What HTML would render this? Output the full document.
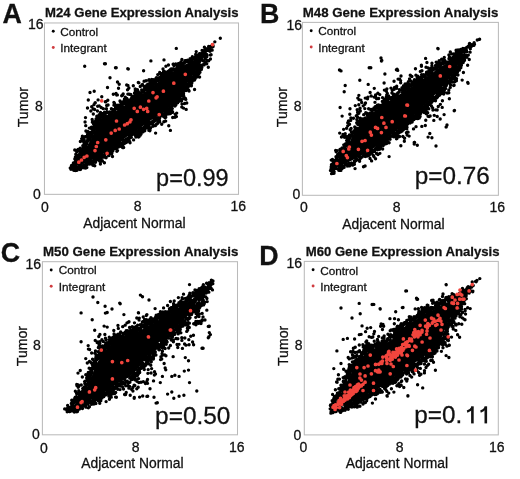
<!DOCTYPE html><html><head><meta charset="utf-8"><style>html,body{margin:0;padding:0;background:#fff;width:520px;height:479px;overflow:hidden}svg{display:block;filter:blur(0.4px)}text{font-family:"Liberation Sans",sans-serif;fill:#111;stroke:#111;stroke-width:0.28px}</style></head><body>
<svg width="520" height="479" viewBox="0 0 520 479">
<rect x="44.46" y="22.96" width="194.04" height="171.39" fill="none" stroke="#bababa" stroke-width="1.05"/>
<text x="2.56" y="22.96" font-size="26.8" font-weight="bold">A</text>
<text x="45" y="17.1" font-size="13.13" font-weight="bold">M24 Gene Expression Analysis</text>
<text x="43.5" y="28.8" font-size="14" text-anchor="end">16</text>
<text x="42.8" y="111.15" font-size="14" text-anchor="end">8</text>
<text x="40.8" y="198.6" font-size="14" text-anchor="end">0</text>
<text x="45.02" y="211.5" font-size="14" text-anchor="middle">0</text>
<text x="137.7" y="211.1" font-size="14" text-anchor="middle">8</text>
<text x="238.22" y="211.1" font-size="14" text-anchor="middle">16</text>
<text x="83.3" y="227.8" font-size="13.85">Adjacent Normal</text>
<text transform="translate(28.2,107.15) rotate(-90)" font-size="14.1" text-anchor="middle">Tumor</text>
<text x="60.3" y="35.9" font-size="11.75">Control</text>
<text x="60.3" y="52.1" font-size="11.75">Integrant</text>
<text x="156.1" y="185.5" font-size="23.5">p=0.99</text>
<circle cx="53.26" cy="31.26" r="1.45" fill="#000"/>
<circle cx="53.26" cy="47.56" r="1.45" fill="#d03c40"/>
<polygon points="75.34,166.37 76.85,166.12 84.12,163.85 91.67,160.08 100.52,155.16 108.84,150.26 117.52,144.48 125.73,137.74 126.23,137.37 133.75,132.62 140.5,128 145.83,123.63 146.3,123.29 153.3,118.79 153.55,118.64 161.24,114.32 167.11,109.8 172.17,104.28 176.98,98.02 186.91,84.12 191.34,77.72 200.18,63.97 204.06,56.71 205.45,53.91 199.23,57.37 198.97,57.5 190.77,61.46 182.49,65.89 174.61,70.27 167.39,75.08 151.53,86.98 143.16,93.45 142.96,93.6 134.36,99.6 134.13,99.75 126.03,104.75 125.98,104.78 117.88,109.66 111.97,114.02 111.53,114.31 111.06,114.56 110.56,114.75 110.05,114.89 109.53,114.97 109,115 106.18,115 103.1,116.54 100.18,119.83 97.04,126.1 94.1,132.97 93.97,133.24 90.47,140.24 90.21,140.7 81.29,154.58 77.02,162.16" fill="#000"/>
<path d="M150.67 87.01h0M159.65 116.02h0M194.63 76.03h0M90.83 111.05h0M191.13 60.84h0M197.41 56.07h0M84.64 148.38h0M126.96 101.77h0M99.19 105.84h0M91.27 135.55h0M172.92 103.75h0M127.1 102.36h0M116.88 151.27h0M75.83 162.99h0M183.52 93.39h0M148.86 88.53h0M200.92 66.74h0M123.92 143.42h0M177.39 98.02h0M168.46 65.05h0M152.86 124.05h0M93.46 131.66h0M136.97 96.85h0M211.33 46.37h0M146.07 80.7h0M123.67 141.03h0M102.77 116.52h0M165.37 76.41h0M117.35 94.88h0M175.81 104.97h0M118.49 108.2h0M83.95 167.81h0M183.44 94.52h0M128.63 140.77h0M113.54 111.74h0M187.62 84.41h0M181.05 62.88h0M160.69 79.28h0M178.54 63.92h0M77.04 158.69h0M101.85 114.86h0M177.68 64.13h0M126.92 139.23h0M71.48 168.49h0M175.73 63.91h0M160.43 115.56h0M162.05 114.7h0M104.96 112.87h0M135.91 137.07h0M172.27 108.62h0M137.44 89.72h0M163.62 71.26h0M92.26 133.07h0M109.75 150.56h0M192.02 59.06h0M202.39 54.13h0M200.68 55.4h0M85.39 144.66h0M166.29 111.15h0M97.47 111.03h0M168.61 71.54h0M169.99 107.18h0M161.93 77.72h0M96.04 158.01h0M103.12 115.04h0M127.92 85.39h0M146.52 123.51h0M123.17 142.36h0M107.8 100.24h0M84.87 136.8h0M194.77 75.76h0M93.14 129.95h0M91.48 137.16h0M94.24 129.95h0M203.34 53.81h0M91.04 137.45h0M168.68 111.15h0M90.14 163.06h0M99.17 114.75h0M80.16 148.19h0M177.59 102.87h0M107.5 153.79h0M199.97 72.31h0M155.13 81.31h0M75.83 154.3h0M157.76 80.66h0M91.97 160.97h0M180.23 95.7h0M163.48 77.05h0M93.23 108.88h0M113.05 111.2h0M190.29 84.52h0M162.42 74.75h0M79.39 151.05h0M101.2 116.76h0M84.42 149.26h0M186.56 61.59h0M136.69 136.11h0M196.86 69.29h0M138.99 133.84h0M85.21 165.28h0M201.2 66.26h0M139.15 136.52h0M86.83 167.52h0M76.23 161.36h0M130.72 94.47h0M95.26 102.72h0M179.63 67.42h0M170.13 72.81h0M127.79 102.97h0M166.18 75.22h0M161.14 76.59h0M182.21 64.37h0M116.84 105.82h0M98.73 117.65h0M194.56 59.19h0M149.79 129.67h0M136.2 135.85h0M179.24 66.54h0M92.97 130.1h0M141.68 89.97h0M92.37 122.15h0M209.7 51.02h0M146.81 88.3h0M180.67 66.33h0M135.81 94.53h0M187.07 88.23h0M128.25 88.85h0M125.44 140.57h0M162.21 77.28h0M156.62 81.1h0M105.25 153.48h0M100.5 156.33h0M172.15 104.8h0M99.51 159.17h0M91.98 161.87h0M122.6 147.51h0M101.77 96.72h0M102.3 154.83h0M79.47 165.85h0M180.24 65.2h0M86.06 136.5h0M128.73 139.77h0M104.89 113.44h0M158.32 77.99h0M92.09 134.59h0M135.24 88.94h0M205.49 54.78h0M143.84 90.99h0M143.92 92.25h0M147.61 89.72h0M210.93 46.2h0M115.59 107.23h0M140.3 93.16h0M164.44 75.3h0M150.14 123.98h0M180.31 64.27h0M97.86 122.33h0M193.16 78.28h0M80.47 153.84h0M175.18 104.25h0M187.5 60.21h0M156.36 81.47h0M130.36 101.83h0M175.68 99.88h0M152.84 81.75h0M75.37 170.45h0M74.75 150h0M183.18 91.39h0M155.9 81.08h0M154.53 118.38h0M178.08 101.29h0M72.23 165.61h0M203.8 61.13h0M118.1 145.33h0M153.88 81.99h0M149.14 123.15h0M200.02 53.8h0M114.76 110.63h0M171.79 69.14h0M83.7 145.36h0M155.29 118.9h0M121.81 105.21h0M108.91 154.85h0M154.72 119.89h0M141.05 134.04h0M165.09 76.59h0M177.4 99.8h0M132.91 134.27h0M170.47 108.15h0M109.4 150.46h0M185.49 86.76h0M98.28 123.5h0M80.17 166.13h0M150.21 122.86h0M110.85 149.98h0M167.85 112.63h0M115.25 146.16h0M93.31 114h0M169.76 108.2h0M148.22 125.22h0M74.05 166.84h0M130.71 135.19h0M109.63 112.51h0M79.11 150.81h0M84.55 149.06h0M117.18 108.85h0M105.3 101.82h0M106.67 105.53h0M75.46 166.76h0M178.87 65.82h0M122.73 104h0M168.71 111.75h0M191.02 83.07h0M92.1 135.75h0M173.4 64.21h0M157.56 118.39h0M170.76 71.99h0M177.62 98.22h0M89.75 138.66h0M191.73 83.25h0M182.51 98.62h0M135.42 98.6h0M103.28 108.66h0M184.39 90.42h0M197.19 74.05h0M144.79 87.92h0M204.41 47.17h0M204.33 56.47h0M78.16 158.18h0M179.16 66.96h0M147.38 86.79h0M122.83 144.41h0M97.12 125.03h0M114.63 103.49h0M144.15 86.43h0M93.47 123.64h0M181.12 95.49h0M94.19 124.34h0M98.87 122.42h0M207.59 50.36h0M99.02 156.43h0M184.2 90.23h0M94.62 127.84h0M80.71 169.25h0M155.4 83.69h0M122.38 104.64h0M204.7 57.13h0M111.93 149.85h0M131.18 101.09h0M210.45 59.04h0M128.83 139.22h0M87.61 134.59h0M150.89 85.09h0M152.92 126.26h0M155.95 78.37h0M101.42 156.25h0M189.19 60.26h0M155.13 83.32h0M147.05 85.04h0M205.74 50.95h0M143.96 127.35h0M158.81 119.42h0M128.98 102.66h0M169.62 70.21h0M149.4 84.32h0M183.21 89.46h0M97.3 157.22h0M179.13 99.62h0M111.2 113.94h0M85.07 122h0M152.76 85.08h0M207.82 48.65h0M91.15 135.24h0M192.35 56.7h0M94.63 126.55h0M165.68 121.1h0M105.57 152.24h0M111.4 108.63h0M96.59 158.07h0M195.59 56.47h0M187.05 84.77h0M76.79 152.06h0M79.95 150.02h0M126.8 98.52h0M176.97 67.83h0M196.48 58.36h0M82.03 151.09h0M75.8 160.43h0M93.99 104.66h0M73.87 166.95h0M87.54 164.01h0M163.3 73.16h0M182.84 65.54h0M142.48 84.38h0M147.92 84.09h0M118.42 147.11h0M138.06 133.2h0M158.24 119.13h0M136.84 97.2h0M135.99 96.47h0M92.62 131.39h0M128.82 139.45h0M177.68 100.02h0M146.95 125.06h0M152.85 81.03h0M75.49 169.09h0M139.28 94.78h0M87.16 132.41h0M92.44 161.86h0M179.04 101.31h0M157.47 80.15h0M74.72 165.08h0M96.83 120.05h0M100.63 116.7h0M199.06 68.12h0M192.29 58.8h0M158.26 121.03h0M200.44 55.73h0M165.91 66.26h0M156.61 79.19h0M85.93 131.07h0M142.01 128.71h0M103.39 155.6h0M112.17 113.04h0M105.15 152.69h0M191.59 78.3h0M81.45 153.63h0M120.49 101.86h0M134.29 133.76h0M135.24 97.19h0M99.29 120.16h0M189.48 61.5h0M112.95 110.54h0M130.33 137.81h0M99.12 156.37h0M151.71 122.07h0M117.3 108.38h0M142.32 128.33h0M131.68 134.21h0M130.71 101.38h0M159.64 121.68h0M201.51 67.46h0M162.55 78.56h0M204.94 49.38h0M102.61 114.57h0M181.83 91.44h0M129.69 141.51h0M173.95 65.49h0M140.26 86.5h0M134.41 134.31h0M91.71 131.93h0M85.73 146.22h0M99.2 158.4h0M195.91 71.64h0M98.95 115.14h0M125.26 97.1h0M160.97 73.53h0M183.8 96.25h0M154.77 82.22h0M121.28 146.46h0M142.04 85h0M185.06 60.64h0M138.09 92.19h0M186.69 84.59h0M163.02 68.9h0M73.87 164.33h0M190.56 81.56h0M131.84 99.99h0M119.37 106.37h0M200.49 68.98h0M168.75 125.72h0M109.26 112.31h0M119.9 142.61h0M83.53 149.08h0M87.81 137.98h0M94.58 109.43h0M150.86 123.87h0M170.3 69.6h0M148.87 80.22h0M118.89 107.06h0M155.28 120.78h0M125.62 103.22h0M179.55 95.46h0M91.6 133.09h0M85.74 125.66h0M117 105.57h0M199.52 56.36h0M120.1 107.64h0M106.42 108.8h0M111 153.05h0M158.82 80.14h0M125.83 103.5h0M99.59 161.05h0M152.24 83.32h0M134.41 97.7h0M198.45 54.64h0M141.72 128.82h0M105.44 153.21h0M166.54 113.18h0M204.3 51.84h0M99.09 158.11h0M205.77 62.18h0M171.06 68.83h0M148.57 85.34h0M75.78 165.11h0M91.58 128.72h0M151.57 86.23h0M187.69 86.31h0M156.42 79.05h0M124.41 99.23h0M74.34 168.53h0M175.09 69.26h0M80.01 169.57h0M130.51 137.57h0M145.12 89.82h0M73.79 167.68h0M118.37 143.93h0M186.13 86.85h0M172.77 104.95h0M83.64 164.85h0M139.14 93.12h0M170.46 113.46h0M125.97 104.71h0M88.36 163.77h0M80.01 149.46h0M111.68 112.35h0M145.22 90.08h0M165.54 112h0M114.11 109.53h0M160.8 78.81h0M116.06 93.53h0M153.58 121.77h0M209.79 48.52h0M144.08 81.31h0M82.12 140.49h0M162.52 76.73h0M70.96 169.36h0M124.07 102.26h0M138.53 137.09h0M163.55 113.7h0M155.37 125.67h0M79.67 168.6h0M128.94 137.59h0M159.26 118.49h0M95.02 159.63h0M118.51 88.25h0M166.94 72.17h0M201.17 56.07h0M182.26 93.99h0M89.37 128.09h0M204.09 64.92h0M125.56 102.85h0M75.15 164.95h0M119.92 144.94h0M171.9 105.18h0M124.39 143.49h0M154.87 120.14h0M89.72 163.24h0M213.1 46.46h0M202.6 51.68h0M155.72 82.13h0M183.48 91.14h0M107.54 152.39h0M200.13 56.42h0M181.78 107.08h0M181.02 93.99h0M173.34 68.72h0M168.34 112.05h0M123.85 140.4h0M112.86 147.87h0M159.9 77.49h0M184.18 89.04h0M185.44 98.54h0M106.26 152.82h0M154 83.07h0M146.87 128.04h0M176.41 116.61h0M119.15 143.2h0M191.39 85.75h0M152.01 123.58h0M209.97 51.26h0M119.77 107.29h0M97.39 158.85h0M139.62 93.73h0M159.61 79.49h0M153.34 79.71h0M77.22 150.12h0M187.83 85.78h0M122.58 94.98h0M159.48 120.82h0M163.5 115.79h0M179.42 99.41h0M77.76 156.85h0M168.09 109.78h0M120 101.06h0M178.41 100.03h0M206.8 56.85h0M204.03 53.9h0M179.76 98.13h0M179.76 65.94h0M110.73 149.39h0M176.31 64.94h0M181.86 93.13h0M149.85 130.82h0M175.29 104.53h0M101.21 117.15h0M166.41 75.16h0M111.49 148.68h0M135.29 90.92h0M140.99 92.73h0M151.78 79.57h0M118.36 105.69h0M95.81 127.64h0M176.7 113.1h0M93.8 127.02h0M159.81 80.06h0M93.05 122.57h0M135.6 98.62h0M168.29 109.01h0M91.82 134.59h0M182.68 92.93h0M75.32 161.89h0M118.51 108.09h0M206.39 54.09h0M151.67 85.9h0M169.53 113.63h0M148.9 127.75h0M173.35 69.41h0M96.96 123.12h0M127.49 138.52h0M71.5 165.54h0M189.31 81.25h0M168.22 110.43h0M197.95 71.6h0M102.61 157.05h0M190.86 83.04h0M170.78 69.28h0M115.6 145.91h0M81.38 166.16h0M96.35 125.94h0M197.47 57.35h0M156.45 77.82h0M149.1 84.68h0M104.54 112.17h0M123.65 147.55h0M131.65 101.22h0M100.03 158.1h0M150.03 130.21h0M134.47 93.32h0M102.3 160.77h0M136.09 96.88h0M123.12 101.73h0M109.76 111.92h0M87.75 139.4h0M86.16 141.58h0M179.84 64.05h0M109.01 155.58h0M107.24 111.89h0M178.36 100.3h0M133.75 97.35h0M185.73 88.26h0M166.28 113.94h0M151.18 83.01h0M183.75 91.52h0M88.76 135.62h0M75.96 164.54h0M168.44 71.16h0M118.82 145.87h0M142.86 131.92h0M75.08 167.14h0M181.51 100.95h0M168.85 109.65h0M157.75 123.18h0M175.26 101.59h0M189.06 91h0M194.44 75.32h0M79.61 167.8h0M130.04 142.84h0M181.88 59.45h0M207.09 55.2h0M163.64 116.5h0M83.25 146.95h0M100.53 112.38h0M86.79 143.82h0M101.63 117.16h0M77.08 160.27h0M113.92 102.56h0M138.84 82.75h0M126.26 142.55h0M93 165.21h0M101.47 157.2h0M188.93 85.11h0M102.7 114.08h0M105.08 156.96h0M159.36 120.8h0M156.69 118.77h0M206.73 63.7h0M126.92 103.09h0M185.46 61.49h0M93.35 161.88h0M128.51 100.15h0M136.47 94.18h0M149.07 79.61h0M143.84 129.31h0M125.54 101.65h0M199.57 67.9h0M188.09 84.01h0M186.05 90.6h0M174.94 117.19h0M112.48 156.44h0M80.36 141.45h0M84.94 141.45h0M196.88 75.17h0M196 54.62h0M160.28 78.15h0M173.96 104.9h0M106.78 112.64h0M87.12 164.45h0M167.43 110.48h0M92.17 119.44h0M192.72 77.12h0M210.74 46.41h0M117.95 108.35h0M133.6 139.9h0M72.93 166.75h0M104.24 156.53h0M89.48 161.42h0M90.78 137.82h0M189.22 84.84h0M92.68 132.95h0M96.54 121.55h0M74.78 166.51h0M103.19 157.14h0M163.88 121.68h0M77.74 160.46h0M95.59 120.88h0M118.11 108.94h0M96.84 123.62h0M195.46 57.61h0M98.54 121.68h0M135.75 94.91h0M194.53 79.94h0M94.75 165.71h0M92.56 161.5h0M80.74 149.14h0M136.93 133.53h0M108.09 153.51h0M118.65 144.22h0M203.07 64.72h0M119.33 143.31h0M192.28 81.36h0M102.1 156.76h0M196.84 77.03h0M118.08 146.75h0M162.51 76.13h0M70.26 167.96h0M160.98 74.71h0M103.68 114.5h0M93.06 163.06h0M120.02 107.34h0M90.63 134.06h0M126.28 104.4h0M76.43 161.1h0M178.95 66.96h0M186.23 61.69h0M110.85 114.36h0M74.7 162.64h0M123.27 141.03h0M93.83 127.09h0M78.06 149.33h0M150.53 127.94h0M187.04 60.4h0M88.86 162.21h0M138.91 129.19h0M159.58 118.62h0M77.21 168.33h0M82.81 145.76h0M204.65 52.34h0M75.66 166.98h0M98.16 122.06h0M81.11 151.27h0M82.39 136.2h0M102.16 155.21h0M195.34 75.33h0M151.02 84.12h0M202.31 52.71h0M73.77 170.32h0M165.81 115.19h0M93.91 126.18h0M195.7 54.35h0M100.97 161.42h0M92.86 130.17h0M129.12 138.24h0M195.32 72.51h0M87.74 131.39h0M160.66 77.8h0M95.49 162.06h0M131.05 98.94h0M212 46.34h0M116.92 147.71h0M166.83 73.73h0M137.81 97h0M75.24 158.28h0M158.02 117.68h0M141.62 128.93h0M96.06 118.9h0M145.14 125.57h0M159.02 115.68h0M111.96 152.68h0M178.15 63.64h0M72.14 165.18h0M95.04 129.37h0M175.81 116.28h0M126.27 99.45h0M83.84 144.77h0M210.45 55h0M148.9 130.39h0M196.22 51.6h0M195.24 75.18h0M206.53 57.07h0M199.43 53.75h0M212.99 46.19h0M93.42 129.47h0M209.51 49.9h0M196.48 55.5h0M165.37 71.96h0M168 71.74h0M192.45 80.5h0M89.71 140.12h0M168.79 72.09h0M77.59 160.12h0M155.46 119.2h0M119.95 143.3h0M194.77 72.61h0M89.74 132.49h0M132.81 96.41h0M212.16 50.14h0M153.87 119.03h0M134.44 133.09h0M80.99 154.6h0M165.97 75.61h0M100.63 155.99h0M170.06 107.88h0M204.72 56.46h0M140.76 128.45h0M117.78 147.19h0M153.86 84.08h0M85.5 117.59h0M196.79 57.31h0M92.85 163.76h0M171.26 107.02h0M137.24 132.31h0M120.37 142.59h0M101.18 107.47h0M136.83 93.63h0M170.65 107.85h0M211.07 54.8h0M122.56 106.26h0M156.22 78.38h0M72.4 167.33h0M98.01 120.41h0M114.02 110.84h0M205.01 58.37h0M88.69 135.7h0M180.99 61.99h0M108.05 104.97h0M177.38 68.45h0M131.1 99.52h0M129.38 136.89h0M191.97 77.78h0M168.76 71.45h0M122.05 105.24h0M202.36 60.33h0M192.69 59.04h0M86.39 167.32h0M82.63 152.34h0M168.85 73.65h0M126.36 103.06h0M200.22 67.98h0M155.69 80.87h0M98.28 118.46h0M174.2 102.68h0M148.85 126.65h0M200.02 70.09h0M131.85 97.33h0M200.74 65.16h0M187.76 89.7h0M71.73 167.03h0M132.81 99.6h0M201.85 67.44h0M135.98 131.46h0M139.77 93.46h0M188.86 61.88h0M85.23 142.73h0M96.81 116.2h0M184.62 103.49h0M119.15 145.97h0M103.39 113.77h0M194.57 89.44h0M195.01 78.94h0M178.65 67.61h0M103.63 113.92h0M89.18 163.87h0M135.74 96.35h0M176.18 64.63h0M177.59 64.98h0M186.75 102.96h0M179.67 63.23h0M87.63 140.7h0M89.02 135.2h0M100.77 155.73h0M141.33 94.49h0M130.98 101.43h0M153.21 82.24h0M112.82 109.98h0M145.11 87.4h0M79.17 157.16h0M156.05 81.12h0M199.41 77.04h0M85.54 164.94h0M111.17 112.51h0M95.56 129.16h0M73.42 162.99h0M137.57 133.45h0M91.46 127.29h0M74.15 167.12h0M139.64 94.68h0M91.88 127.36h0M201.37 69.4h0M198.9 73.77h0M105.7 113.39h0M142.4 91.01h0M89.49 163.93h0M81.66 167.54h0M94.11 159.2h0M156.44 118.2h0M170.01 107.81h0M166.9 111.5h0M210.18 48.2h0M144.64 128.57h0M148.49 122.23h0M137.25 96.5h0M87.91 140.88h0M171.6 106.78h0M76.96 156.18h0M83.72 142.01h0M135.25 95.4h0M195.28 73.71h0M155.6 119.61h0M198.89 68.81h0M93.5 128.47h0M158.9 116.92h0M128.29 99.87h0M115.75 148.2h0M180.14 94.1h0M75.42 156.91h0M134.8 132.82h0M210.52 50.62h0M123.43 142.18h0M79.9 166.56h0M100.88 117.48h0M183.47 98.66h0M188.52 90.06h0M140.22 135.31h0M144.21 89.33h0M152.27 122.64h0M186.65 84.51h0M212.59 44.59h0M93.14 121.7h0M126.25 139.18h0M89.01 139.29h0M173.38 104.63h0M88.28 141.02h0M136.29 96.71h0M206.93 60.35h0M119.88 146.01h0M127.6 103.24h0M179.54 67.39h0M91.58 164.05h0M72.34 168.35h0M157.31 78.81h0M81.68 138.74h0M95.77 161.4h0M87.51 141.43h0M131.56 98.26h0M102.3 154.71h0M97.72 117.91h0M177.1 101.86h0M150.06 82.08h0M117.54 150.58h0M131.29 135.34h0M208.69 47.94h0M195.21 58.37h0M128.42 138.24h0M131.31 137.34h0M129.54 100.78h0M115.69 146h0M150.16 87.61h0M190.09 58.75h0M168.78 113.92h0M138.23 91.56h0M114.04 148.83h0M166.09 113.11h0M157.53 79.74h0M101.21 117.35h0M146.13 85.95h0M175.67 102.33h0M97.69 106.31h0M171.4 71.81h0M210.59 47.2h0M141.12 130.14h0M154.62 83.14h0M212.41 46.89h0M121.88 105.55h0M138.59 130.64h0M189.42 60.85h0M98.83 119.2h0M120.46 107.34h0M213.04 45.82h0M95.51 162.36h0M168.24 73.76h0M123.25 140.2h0M165.74 117.24h0M182.17 64.82h0M208.71 60.75h0M95.37 159.8h0M114.5 109.43h0M177.19 100.21h0M175.39 104.28h0M174.93 105.97h0M129.38 135.52h0M76.97 170.24h0M116.68 147.31h0M99.59 157.21h0M207.72 50.18h0M150.75 79.89h0M85.7 168.03h0M155.65 82.73h0M74.68 168.83h0M165.04 117.85h0M173.14 64.21h0M111.65 153.78h0M154.38 82.43h0M174.39 69.1h0M176.94 100.7h0M161.55 115.69h0M83.08 148.83h0M82.72 165.82h0M102.33 157.27h0M191.41 60.65h0M120.79 104.18h0M86.03 165.39h0M147.13 89.24h0M110.87 152.12h0M134.74 99.07h0M159.77 115.97h0M91.17 136.04h0M206.94 55.02h0M77.98 167.18h0M74.56 167.61h0M161.73 124.21h0M164.84 116.33h0M184.64 62.42h0M198.66 68.55h0M208.66 46.49h0M187.88 86.94h0M204.06 51.26h0M90.74 163.07h0M149.22 122.45h0M104.77 154.4h0M192.24 58.79h0M124.96 103.47h0M198.5 67.4h0M205.21 54.41h0M160.22 77.47h0M179.44 95.41h0M91.14 136.46h0M200.52 56.2h0M106.09 157.83h0M90.32 161.73h0M97.92 122.47h0M85.6 145.2h0M103.02 113.43h0M79.78 168.35h0M76.92 155.5h0M82.74 151.49h0M79.68 167.85h0M179.85 94.42h0M171.83 111.09h0M140.09 131.17h0M192.53 59.17h0M214.83 41.87h0M118.11 105.32h0M176.58 99.21h0M125.68 103.68h0M108.59 155.63h0M134.26 98.94h0M172.71 112.18h0M113.94 105.17h0M189.78 80.29h0M128.93 87.89h0M183.29 62.91h0M184.38 63.27h0M191.27 58.69h0M124.54 103.46h0M99.97 119.04h0M88.44 138.59h0M79.55 154.22h0M123.09 147.05h0M196.36 58.36h0M190.47 79.23h0M92.07 136.86h0M132.74 98.93h0M107.09 111.85h0M186.77 61.17h0M140.26 95.2h0M114.68 147.85h0M204.87 63.75h0M188.72 86.25h0M92.43 135.21h0M193.78 74.43h0M135.23 94.59h0M185.03 60.72h0M166.43 73.85h0M116.03 145.9h0M112.88 150.87h0M98.45 120.08h0M109.05 113.55h0M126.82 141.88h0M110.56 114.72h0M72.97 166.25h0M81.03 151.82h0M116.06 107.61h0M92.39 131.13h0M131.56 99.75h0M76.97 156.58h0M73.5 166.21h0M181.97 104.12h0M168.1 72.47h0M78.61 167.7h0M100.54 116.48h0M93.48 130.14h0M183.44 91.05h0M105.62 157.13h0M152.43 121.82h0M98.1 99.92h0M178.92 95.82h0M195.13 58.83h0M202.07 50.38h0M123.17 94.05h0M88.4 139.67h0M124.27 142.97h0M169.68 110.82h0M209.58 48.58h0M84.37 137.13h0M157.75 74.61h0M160.29 116.24h0M96.78 159.73h0M138.65 129.94h0M84.15 139.17h0M200.02 65.3h0M94.91 127.57h0M190.76 81.14h0M88.49 140.55h0M101.59 155.51h0M190.51 79.09h0M80.86 152.63h0M110.37 151.11h0M170.43 110.77h0M163.34 72.91h0M94.07 132.25h0M118.96 106.76h0M100.49 158.71h0M94.07 123.82h0M87.22 162.9h0M114.2 147.77h0M142.09 92.14h0M87.02 162.53h0M140.71 130.67h0M86.07 167.91h0M135.72 136.44h0M199.39 68.22h0M175.26 114.38h0M205.46 48.52h0M162.3 114.14h0M129.2 94.25h0M127.52 89.86h0M95.59 122.97h0M111.88 113.94h0M80.68 165.15h0M137.17 133.17h0M74.83 159.06h0M171.92 110.66h0M98.22 159.11h0M116.17 107.8h0M120.04 143.07h0M177.31 98.28h0M159.72 72.55h0M102.19 154.78h0M185.78 99.42h0M111 153.53h0M165.07 111.93h0M100.28 116.77h0M127.84 94.08h0M144.83 87.02h0M85.86 164.09h0M78.62 168.98h0M193.15 57.36h0M144.78 130.68h0M74.57 162.55h0M114.02 111.9h0M177.04 64.74h0M104.46 115.17h0M84.7 66.3h0M104.5 63.8h0M115.5 67.7h0M127.8 68.8h0M110 77.8h0M117.5 82h0M119.2 84.2h0M126.7 85h0M107.5 87.5h0M90 92.5h0M94.2 91.3h0M88.3 100h0M95 103h0M105.8 101.7h0M87.5 108h0M91.7 106.7h0M113.3 94.2h0M116.7 95h0M121.7 95.8h0M133.3 85.8h0M138.3 82.5h0M176.3 48.4h0M150.9 60.9h0M164 59.9h0M143.6 70.7h0M208.3 67.2h0M220.3 38.3h0M128.3 69h0M116.2 67.7h0M105.4 63.7h0M199.6 77.1h0M183.5 108.1h0M186.2 109.4h0M172.7 117.5h0M156.5 124.2h0M170.4 130.4h0M155.6 133.1h0M100.4 164h0M104.4 162.7h0" stroke="#000" stroke-width="3.4" stroke-linecap="round" fill="none"/>
<path d="M101.7 100.8h0M212.5 44.6h0M185.3 74.3h0M173.8 83.2h0M163.4 91.2h0M153 92.6h0M156.1 97.8h0M157.1 96.8h0M148.8 101h0M134.2 108.3h0M140.4 107.2h0M143.6 109.3h0M146.7 108.3h0M137.3 111.4h0M147.7 111.4h0M131 119.8h0M159.2 114.6h0M116.5 121h0M124.6 125h0M127.3 123.7h0M130 121.8h0M111.2 133.1h0M115.2 130.4h0M119.2 129h0M105.8 139.8h0M97.7 142.5h0M96.3 146.5h0M95 150.6h0M107.1 153.3h0M86.9 156h0M84.2 157.3h0M81.5 160h0M78.8 162.2h0" stroke="#f2453d" stroke-width="3.7" stroke-linecap="round" fill="none"/>
<rect x="302.4" y="22.4" width="196" height="172.9" fill="none" stroke="#bababa" stroke-width="1.05"/>
<text x="259.9" y="23.3" font-size="26.8" font-weight="bold">B</text>
<text x="302.8" y="16.9" font-size="13.27" font-weight="bold">M48 Gene Expression Analysis</text>
<text x="301.98" y="29.62" font-size="14" text-anchor="end">16</text>
<text x="301.5" y="110.94" font-size="14" text-anchor="end">8</text>
<text x="300.3" y="199.3" font-size="14" text-anchor="end">0</text>
<text x="304.02" y="212.2" font-size="14" text-anchor="middle">0</text>
<text x="396.65" y="212.32" font-size="14" text-anchor="middle">8</text>
<text x="497.2" y="212.32" font-size="14" text-anchor="middle">16</text>
<text x="342.28" y="228.5" font-size="13.85">Adjacent Normal</text>
<text transform="translate(287.4,107.05) rotate(-90)" font-size="14.1" text-anchor="middle">Tumor</text>
<text x="318.3" y="35.4" font-size="11.75">Control</text>
<text x="318.3" y="51.6" font-size="11.75">Integrant</text>
<text x="414.8" y="184.3" font-size="24.3">p=0.76</text>
<circle cx="311.2" cy="30.7" r="1.45" fill="#000"/>
<circle cx="311.2" cy="47" r="1.45" fill="#d03c40"/>
<polygon points="333.86,168.28 334.85,168.12 342.2,165.37 357.89,157.52 365.7,153.13 373.56,148.22 380.86,143.35 387.66,138.01 407.02,121.63 419.88,109.75 439.2,90.44 445.02,83.64 450.4,76.8 455.16,70.13 459.47,61.99 462.92,54.6 463.05,54.35 464.2,52.24 462.19,53.55 456.02,57.73 455.87,57.83 447.47,63.03 447.13,63.22 439.28,67.19 432.86,72.47 432.43,72.79 425.55,77.21 417.86,82.83 417.57,83.03 409.2,88.21 400.92,93.49 400.87,93.53 392.48,98.72 384.35,103.81 376.1,110 376.09,110.01 368.05,116.01 360.23,123.84 352.94,135.2 348.26,144.95 348.06,145.32 347.82,145.67 341.62,154.07 341.58,154.12 335.78,161.76" fill="#000"/>
<path d="M413.55 84.26h0M390.08 139.29h0M347.36 163.83h0M402.57 92.34h0M388.63 95.86h0M463.56 49.56h0M449.36 98.68h0M433.54 98.97h0M435.06 67.62h0M432.42 70.4h0M375.83 97.43h0M396.68 86.22h0M382.05 142.97h0M410.78 85.67h0M465.17 48.67h0M340.88 153.79h0M453.87 58.3h0M385.91 139.45h0M344.85 149.29h0M452.6 81.84h0M367.74 115.77h0M333.27 168.92h0M340.45 150.67h0M331.16 168.13h0M429.42 104.23h0M394.92 96.12h0M365.48 102.91h0M427.65 74.11h0M378.63 98.53h0M425.65 106.9h0M448.03 62.25h0M458.11 49.93h0M365.52 153.98h0M458.33 69.1h0M414.95 83.57h0M407.58 88.69h0M403.04 91.74h0M407.03 122.87h0M400.59 80.61h0M419.41 80.52h0M457.92 53.09h0M407.03 127.36h0M418.47 111.52h0M428.06 116.36h0M342.31 166.31h0M396.43 94.75h0M335.08 160.13h0M464.82 57.13h0M456.52 68.02h0M400.67 82.84h0M387.53 101.55h0M337.89 156.23h0M405.18 125.79h0M350.21 129.75h0M355.05 168.58h0M461.4 65.27h0M353.42 118.26h0M408.68 120.15h0M464.2 59.29h0M459.15 66.7h0M405.58 125.96h0M369.01 153.18h0M453.63 54h0M345.86 136.44h0M408.1 88.83h0M400.88 130.03h0M414.23 142.38h0M430.92 103.16h0M439.02 62.2h0M356.99 115.08h0M369.75 153.57h0M438.91 95.62h0M370.64 109.4h0M459.69 54.93h0M345.73 143.93h0M333.98 172.58h0M447.17 92.97h0M458.29 69.48h0M418.1 82.47h0M434.87 98.18h0M459.49 63.13h0M406.59 88.3h0M347.63 136.79h0M444.97 85.58h0M405.6 85.72h0M445.61 88.44h0M358.94 160.36h0M466.63 51.73h0M335.9 160.6h0M370.3 150.75h0M342.18 147.9h0M386.07 140.5h0M355.96 160.47h0M453.7 85.55h0M383.09 144.09h0M404.67 123.66h0M436.78 67.66h0M431.26 70.95h0M406.77 125.72h0M352.3 134.3h0M461.31 51.39h0M399.52 89.61h0M461.9 57.72h0M359.51 123.74h0M409.77 121.88h0M374.07 107.88h0M473.31 44.93h0M442.21 107.39h0M448.98 58.75h0M371.69 150.88h0M339.85 154.86h0M457.91 55.39h0M377.88 93.31h0M354.77 130.13h0M347.72 125.84h0M448.91 55.05h0M334.81 163.74h0M416.02 114.69h0M442.1 88.47h0M376.21 108.41h0M477.29 40.05h0M371.72 109.38h0M428.86 71.33h0M332.84 165.42h0M340.21 166.58h0M346.64 140.39h0M339.16 166.58h0M356.72 122.7h0M447.63 62.67h0M460.65 49.51h0M340.88 148.92h0M423.39 74.61h0M351.16 163.16h0M408.08 132.14h0M390.33 98.78h0M444.16 92.47h0M426.39 113.69h0M428.28 72.57h0M447.68 82.22h0M394.23 132.77h0M419.72 112.85h0M332.75 171.68h0M469.32 45.03h0M331.87 170.98h0M389.71 97.9h0M356.41 158.5h0M420.35 114.17h0M376.69 107.26h0M336 168.18h0M462.86 48.57h0M387.41 99.11h0M451.04 82.02h0M383.11 143.51h0M432.93 109.96h0M345.49 164.51h0M346.24 163.79h0M419.52 80.94h0M444.11 85.2h0M450.23 87.42h0M396.92 138.61h0M413.94 84.15h0M406.55 89.03h0M405.2 86.75h0M360.68 157.13h0M389.11 142.8h0M425.31 125.57h0M465.22 55.77h0M460.81 62.23h0M394.54 87.41h0M421.4 65.23h0M411.44 119.72h0M428.79 108.75h0M406.45 132.77h0M413.73 119.64h0M366.54 113.3h0M462.17 59.1h0M384.93 100.63h0M437.22 116.43h0M421.47 108.59h0M403.37 126.81h0M458.96 53.31h0M398.12 92.69h0M384.11 83.02h0M424.46 109.06h0M338.77 170.31h0M397.77 132.41h0M429.09 116.44h0M349.48 165.88h0M377.58 146.02h0M374.26 88.35h0M381.42 105.27h0M360.29 118.28h0M460.73 66.81h0M393.66 134.16h0M383.31 103.01h0M471.88 44.73h0M443.03 92.72h0M403.94 91.45h0M432.48 69.13h0M453.21 57.17h0M470.56 46h0M429.74 104.11h0M350.69 120.4h0M355.3 129.1h0M401.55 129.48h0M443.59 63.61h0M352.46 136.1h0M339.55 155.88h0M431.57 72.41h0M405.15 83.84h0M363.21 105.87h0M410.6 119.76h0M379.48 105.94h0M353.29 132.9h0M433.52 100.36h0M331.57 173.67h0M384.64 99.37h0M350.2 138.21h0M334.48 166.02h0M383.62 141.74h0M446.36 85.51h0M462.67 55.45h0M418.82 80.37h0M444.88 60.8h0M451.25 79.91h0M470.92 45.84h0M442.04 88.48h0M387.77 139.62h0M353.02 132.36h0M364.65 118.55h0M467.65 65.21h0M406.91 86.81h0M342.78 151.43h0M419.82 81.12h0M444.73 60.69h0M457.53 51.91h0M460.37 53.26h0M358.85 113.36h0M412.36 120.67h0M440.51 90.99h0M347.73 138.23h0M334.01 163.02h0M343.78 144.84h0M408.03 121.04h0M456.61 56.39h0M359.07 99.64h0M346.97 143.2h0M431.15 72h0M388.37 139h0M434.23 115.36h0M425.16 109.8h0M448.88 82.2h0M344.69 146.49h0M346.63 128.25h0M346.93 165.38h0M451.79 53.92h0M405.21 124.75h0M391.34 135.92h0M437.95 93.91h0M363.53 120.15h0M340.31 149.7h0M454.33 56.38h0M345.39 144.01h0M419.27 114.38h0M345.3 146.56h0M346.45 137.58h0M455.62 71.94h0M405.68 127.05h0M380.63 144.04h0M414.92 83.85h0M344.05 167.38h0M332.04 170.58h0M343.08 166.82h0M404.3 90.21h0M445.3 62.73h0M445.21 83.96h0M448.84 82.86h0M360.31 110.94h0M386.38 91.19h0M365.36 117.96h0M417.19 77.71h0M404.33 141.21h0M437.08 96.58h0M369.69 113.97h0M374.1 151.2h0M395.03 94.69h0M406.77 128.89h0M332.7 165.3h0M342.43 166.9h0M446.61 63.35h0M460.5 62.79h0M464.17 48.62h0M462.52 60.77h0M438.1 96.03h0M393.66 133.03h0M470.88 45.6h0M460.17 66.79h0M456.71 54.28h0M384.41 90.1h0M449.64 82.79h0M360.51 158.08h0M425.39 76.22h0M424.92 75.16h0M408.37 81.82h0M461.17 61.52h0M453.59 58.01h0M459.56 55.26h0M370.04 158.54h0M349.44 134.89h0M416.04 114.72h0M443.55 62.98h0M470.09 52.13h0M346.97 164.3h0M417.8 76.12h0M380.23 106.33h0M440.13 62.65h0M452.79 78.23h0M418.85 77.43h0M404.98 126.78h0M336.44 159.81h0M346.71 144.93h0M384.55 101.46h0M394.21 89.04h0M421.74 79.1h0M404.25 125.25h0M446.08 61.95h0M352.73 132.4h0M351.1 128.57h0M399.04 128.7h0M458.98 65.19h0M343.72 148.31h0M429.3 68.6h0M359.59 161.23h0M397.41 94.94h0M350.16 164.03h0M402.02 87.62h0M347.2 166.07h0M393.44 134.06h0M372.03 152.99h0M405.26 86.98h0M463.77 49.39h0M432.84 97.48h0M413.51 128.89h0M452.38 58.06h0M453.65 58.75h0M444.28 57.46h0M444.84 87.6h0M343.61 135.39h0M412.46 118.62h0M333.29 162.04h0M339.32 154.47h0M397.21 135.36h0M382.35 101.39h0M375.21 106.76h0M399.4 128.94h0M365.77 112.73h0M458.75 65.61h0M425.58 105h0M410.26 75.31h0M407.32 123h0M413.69 115.64h0M377.31 107.17h0M385.4 99.95h0M330.47 170.41h0M454.29 56.38h0M409.35 87.03h0M393.79 94.29h0M442.61 62.16h0M463.21 62.6h0M345.2 133.67h0M439.41 66.49h0M435.59 68.69h0M375.86 147.92h0M398.04 136.93h0M414 84.58h0M428.81 101.91h0M332.22 171.06h0M335.98 156.75h0M402.55 127.19h0M431.93 65.81h0M448.81 92.86h0M331.48 164.73h0M462.97 56.81h0M466.33 50.27h0M433.5 96.95h0M383.39 103.98h0M410.67 81.03h0M419.85 110.86h0M339.7 133.09h0M468.22 46.52h0M392.22 136.03h0M331.24 160.12h0M428.02 71.79h0M451.75 77.68h0M369.21 154.01h0M340.69 150.89h0M356.25 115.9h0M396 137.15h0M333.26 168.48h0M359.1 121.46h0M407.45 83.51h0M343.43 151.41h0M377.85 146.9h0M420.14 77.95h0M469.61 43.35h0M420.34 71.38h0M386.88 88.86h0M450.39 60.3h0M336.99 158.37h0M446.15 84.1h0M393.04 135.26h0M400.37 130.05h0M367.81 155.77h0M420.04 113.49h0M458.42 51.96h0M409.52 78.91h0M466.1 47.95h0M359.52 157.44h0M364.38 154.71h0M440.19 118.96h0M448.8 90h0M409.8 84.74h0M332.61 165.35h0M454.27 78.69h0M392.18 98.13h0M367.5 98.73h0M441.3 91.77h0M373.34 155.52h0M457.49 72.02h0M441.99 59.35h0M436.65 97.91h0M457.71 52.41h0M359.06 123.26h0M428.35 103.31h0M451.06 58.81h0M388.03 138.38h0M461.7 63.36h0M440.44 89.55h0M386.2 97.32h0M437.42 66.9h0M452.05 77.25h0M414.39 116.86h0M418.89 113.56h0M337.64 154.7h0M361.95 157.01h0M427.2 102.92h0M439.78 95.12h0M425.37 74.6h0M437.79 64.84h0M426.52 72.13h0M410.39 121.21h0M379.55 149.34h0M468.32 55.12h0M407.65 123.8h0M398.21 132.58h0M365.61 155.64h0M416.02 126.63h0M361.7 102.5h0M431.95 63.22h0M375.58 94.91h0M380.53 147.58h0M425.55 104.78h0M421.79 109.04h0M427.58 105.15h0M458.06 66.79h0M459.92 54.54h0M425.76 120.23h0M358.22 121.52h0M444.11 85.44h0M463.88 50.11h0M368.79 152.97h0M331.23 166.82h0M356.63 128.21h0M380.61 148.06h0M438.78 92.84h0M336.27 159.41h0M422.51 75.15h0M427.47 73.48h0M460.3 60.75h0M455.11 71.65h0M459.36 62.89h0M455.53 72.01h0M342.09 168.44h0M457.87 68.49h0M451.04 60.01h0M399.24 91.99h0M410.73 119.12h0M416.34 115.03h0M368 113.66h0M349.64 135.76h0M376.51 153.46h0M391.36 98.59h0M361.14 121.18h0M383.21 145.55h0M416.76 80.3h0M354.75 127.05h0M355.29 105.61h0M385.27 141.88h0M456.39 80.7h0M383.99 141.07h0M374.04 156.72h0M360.18 158.76h0M393.78 136.52h0M386.66 95.08h0M463.31 51.89h0M402.18 90.23h0M334.16 165.88h0M455.58 69.5h0M412.11 121.99h0M367.66 115.66h0M431.88 102.01h0M421.74 109.94h0M384.92 102.69h0M371.22 113.46h0M367.39 115.19h0M374.94 108.76h0M403.81 89.74h0M430.01 103.5h0M446.62 83.53h0M351.42 132.05h0M384 101.3h0M388.96 96.82h0M340.37 152.75h0M459.3 53.4h0M419.61 79.3h0M435.47 100.81h0M358.86 95.33h0M344.29 148.34h0M360.48 157.26h0M398.16 131.76h0M455.25 70.5h0M390.02 98.04h0M417.61 118.64h0M466.75 47.4h0M371.29 152.44h0M454.65 81.78h0M364.82 104.36h0M444.45 60.22h0M428.74 102.61h0M356.38 159.27h0M411.35 118h0M407.37 122.52h0M412.01 82.54h0M469.31 45.7h0M355.84 159.74h0M441.82 93.25h0M449.96 78.61h0M332.41 170.56h0M362.64 118.94h0M354.07 133.15h0M361.21 122.29h0M414.78 116.39h0M396.9 133.7h0M400.92 131.74h0M412.22 120.83h0M441.64 59.31h0M349.55 124.22h0M351.28 163.08h0M426.02 67.22h0M364.65 154.31h0M382.29 143.22h0M423.16 111.65h0M399.05 132.7h0M382.74 142.75h0M458.42 68.75h0M418.74 115.67h0M382.63 145.12h0M461.26 58.7h0M454.58 76.77h0M356.85 119.46h0M431.08 73.3h0M438.24 63.27h0M431.42 106.07h0M434.85 69.28h0M363.7 114.65h0M333.15 164.93h0M403.11 128.7h0M468.82 46.99h0M346.77 137.3h0M377.97 145.3h0M400.98 131.06h0M449.63 78.12h0M421.52 78.13h0M334 173.36h0M409.13 136.09h0M461.02 64.76h0M402.86 136.51h0M355.67 128.32h0M339.36 167.2h0M331.96 169.6h0M474.48 44.23h0M425.76 104.81h0M426.49 104.44h0M375.56 158.82h0M416.37 82.53h0M401.01 75.93h0M462.17 80.11h0M444.96 84.29h0M365.29 156.61h0M460.1 66.7h0M361.32 122.06h0M458.52 66.85h0M439.4 65.04h0M407.1 135.12h0M403.84 90.19h0M470.37 48.63h0M456.85 68.4h0M420.86 113.02h0M405.54 86.08h0M359.61 124.21h0M470.08 45.26h0M345.43 144.95h0M393.97 97.33h0M391.73 97.69h0M342.13 116.08h0M354.74 130.89h0M411.24 85.7h0M435.58 65.41h0M435.94 109.9h0M396.64 88.33h0M354.77 161.69h0M455.01 57.66h0M457.18 52.4h0M351.15 163.18h0M378.88 106.37h0M460.81 67.74h0M342.48 165.79h0M360.37 119.54h0M452.28 75.9h0M348.9 142.86h0M427.76 107.33h0M342.65 149.57h0M450.16 57.96h0M452.62 81.95h0M348.61 140.99h0M355.47 127.75h0M471.48 44.83h0M454.1 85.3h0M452.93 75.16h0M387.07 98.35h0M365.54 155.86h0M436.73 96.57h0M421.53 77.47h0M470.06 44.82h0M449.38 81.07h0M367.14 155.94h0M415.92 75.17h0M461.53 58.91h0M449.77 79.38h0M415.46 68.8h0M466.95 57.25h0M403.96 128.75h0M456.35 51.93h0M393.22 98.11h0M447.22 81.15h0M455.74 73.94h0M428.63 72.67h0M339.49 154.16h0M414.79 116.17h0M397.27 134.63h0M402.52 90.24h0M366.96 113.2h0M375.73 107.26h0M373.2 109.15h0M464.21 55.25h0M361.09 122.23h0M426.9 108h0M387.03 141.86h0M334.78 162.04h0M339.84 154.36h0M367.89 97.1h0M342.64 150.69h0M414.39 79.65h0M430.12 116h0M406.46 84.16h0M343.23 148.35h0M374.46 151.24h0M456.53 78.74h0M377.42 147.13h0M394.66 133.38h0M428.44 72.3h0M374.95 102.33h0M347.76 122.63h0M387.31 93.35h0M348.59 140.35h0M374.13 97.09h0M340.08 168.09h0M423.44 107.29h0M438.25 106.57h0M453.77 58.1h0M444.08 63.29h0M394.33 134.66h0M401.05 128.92h0M430.2 100.1h0M462.02 58.87h0M417.57 112.79h0M466.18 49.12h0M377.28 105.16h0M426.93 62.46h0M357.66 124.15h0M360.88 100.1h0M401.55 126.85h0M418.51 81.49h0M362.06 121.14h0M433.3 100.56h0M412.82 116.88h0M432.19 99.81h0M401.94 126.19h0M399.68 79.28h0M369.14 155.35h0M397.01 132.74h0M427.24 72.12h0M392.25 90.29h0M379.88 153.35h0M347.54 142.41h0M428.54 75.21h0M353.93 131.18h0M378.88 145.65h0M335.66 150.5h0M334.11 171.59h0M430.81 99.18h0M355.56 130.48h0M402.83 128.45h0M370.12 92.44h0M388.2 99.33h0M469.25 59.54h0M413.32 81.62h0M419.18 111.38h0M399.23 128.82h0M403.93 86.67h0M373.18 109.71h0M337.07 150.62h0M340.13 169.7h0M436.48 96.1h0M449.55 57.26h0M422.78 107.29h0M339.02 154.95h0M420.83 80.49h0M393.56 136.68h0M355.85 128.02h0M447.07 81.4h0M404.33 90.27h0M376.61 98.82h0M418.32 80.85h0M342.11 148.51h0M390.29 137.01h0M435.49 98.6h0M436.66 93.29h0M354.4 164.31h0M457 53.89h0M344.47 137.26h0M383.45 101.46h0M359.91 157.64h0M370.35 112.92h0M368.64 108.75h0M471.07 46.78h0M433.81 120.41h0M342.33 151.58h0M457.19 74.81h0M439.95 92.65h0M409.02 88.22h0M369.36 155h0M447.62 62.08h0M342.45 168.01h0M402.16 130.97h0M349.81 114.23h0M418.65 79.94h0M404.59 138.2h0M434.48 97.57h0M405.01 126.52h0M372.28 112h0M379.79 94.62h0M437.05 93.78h0M362.11 119.73h0M382.76 101.7h0M459.84 65.09h0M418.4 117.38h0M333.52 169.44h0M371.54 149.53h0M357.61 112.2h0M338.39 169.1h0M405.82 86.8h0M423.13 111.41h0M424.93 105.18h0M352.42 132.8h0M427.54 103.01h0M416.53 113.5h0M446.75 84.59h0M418.31 79.01h0M372.17 111.94h0M444.61 88.06h0M410.22 121.2h0M413.63 85.06h0M433.52 68.41h0M371.6 160.88h0M426.28 111.09h0M421.08 77.06h0M351.63 136.04h0M444.3 90.39h0M339.85 170.39h0M352.64 165.13h0M452.87 57.33h0M464.23 60.65h0M430.91 70.39h0M337.77 156.08h0M397.1 93.72h0M337.68 156.51h0M403.98 89.9h0M440.18 66.52h0M456.12 50.15h0M420.08 116.5h0M339.35 152.83h0M424.39 77.04h0M463.7 57.82h0M383.77 100.69h0M462.56 57.97h0M426.46 109.1h0M371.32 150.62h0M339.99 149.44h0M421.96 70.78h0M334.17 165.57h0M336.21 168.56h0M430.36 100.97h0M411.89 76.52h0M439.14 60.68h0M463.36 49.62h0M421.82 126.42h0M360.37 121.36h0M368.34 152.03h0M350.41 164.19h0M419.27 118.02h0M347.99 144.92h0M450.55 84.94h0M377.54 149.83h0M459.36 70.16h0M473.82 45.42h0M358.77 104.7h0M405.41 89.52h0M464.56 60h0M340.3 170.31h0M416.07 117.02h0M474.14 42.68h0M403.38 129.85h0M449.81 77.59h0M367.35 115.07h0M454.2 58.84h0M338.86 156.01h0M455.33 70.03h0M350.08 137.4h0M397.03 130.83h0M377.74 106.2h0M415.35 118.47h0M386.02 139.53h0M411.42 85.81h0M461.98 57.32h0M344.48 146.4h0M343 134.56h0M438.74 91.8h0M384.53 144.15h0M367.71 154.31h0M382.51 97.61h0M428.12 67.93h0M375.77 148.98h0M357.19 109.8h0M436.36 68.89h0M436.2 62.28h0M453.49 74.96h0M469.92 52.12h0M333.78 163.56h0M368.74 152.26h0M391.93 93.03h0M471.37 45.71h0M352.56 163.78h0M386.3 101.9h0M419.6 112.1h0M452.26 74.98h0M463.41 72.45h0M396.47 138.7h0M395.82 134.69h0M437.16 109.94h0M442.75 88.97h0M420.39 110.25h0M426.81 73.41h0M383.43 100.85h0M362.11 157.12h0M464.9 51.98h0M341.87 165.53h0M345.97 145.48h0M427.88 73.71h0M379 107.56h0M446.72 83.11h0M443.7 94.12h0M391.32 97.63h0M431.1 68.17h0M358.84 122.15h0M379.71 146.24h0M469.42 43.7h0M429.28 101.59h0M424.85 107.05h0M357.04 123.4h0M340.26 150.05h0M437.62 97.1h0M351.81 134.6h0M339.34 154.79h0M465.88 56.4h0M375.21 109.7h0M382.81 143.54h0M360.47 121.12h0M460.19 54.3h0M455.51 56.36h0M348.5 120.93h0M453.82 74.02h0M338.16 156.25h0M456.91 67.09h0M402.75 90.99h0M449.79 80.38h0M370.77 152.63h0M393.88 133.58h0M360.04 122.07h0M406.41 122.61h0M363.35 155.73h0M440.9 92.1h0M458.98 70.1h0M357.8 124.57h0M390.97 88.12h0M442.42 100.77h0M355.69 159.71h0M465.21 51.34h0M354.28 161.08h0M368.34 114.46h0M417.52 82.15h0M370.08 154.14h0M380.62 145.04h0M421.58 74.59h0M340.81 167.63h0M424.51 112.63h0M349.25 139.36h0M340.62 150.93h0M452.77 59.26h0M343.61 129.37h0M409.46 121.84h0M410.02 123.01h0M387.05 141.12h0M457.63 69.99h0M450.07 80.13h0M373.96 107.97h0M421.06 80.45h0M449.77 58.31h0M357.58 117.19h0M377.96 154.47h0M395.88 95.45h0M421.31 77.84h0M455.39 54.02h0M382.65 148.93h0M457.96 74.97h0M427.71 112.7h0M394.2 89.24h0M470.76 46.91h0M399.56 136.43h0M336.16 151.87h0M427.47 104.13h0M420.8 77.58h0M448.25 81.25h0M375.01 148.94h0M436.69 93.5h0M460.73 53.56h0M436.59 97.32h0M421.44 66.21h0M354.91 130.1h0M378.6 104.87h0M346.85 145.45h0M450.03 78.61h0M344.94 146.29h0M407.77 123.33h0M340.87 170.41h0M440.93 64.89h0M372.3 110h0M459.32 65.15h0M350.89 117.9h0M454.24 72.7h0M368.05 114.51h0M335.95 160.25h0M418.26 113.38h0M432.69 108.06h0M457.1 72.57h0M450.82 78.12h0M397.8 93.55h0M409.22 84.97h0M394.04 81.31h0M339.4 156.41h0M331.69 164.55h0M431.11 73.22h0M364.81 108.58h0M454.57 74.57h0M348.04 143.12h0M453.13 76.78h0M393.34 94.96h0M440.37 104.35h0M386.58 143.5h0M372.69 150.77h0M348.83 163.43h0M365.28 98.11h0M341.47 136.97h0M357.77 121.35h0M402.53 91.91h0M424.82 77.1h0M418.39 79.28h0M465.92 55.44h0M403.57 85.8h0M443.82 89.4h0M450.29 60.65h0M430.19 73.13h0M371.14 96.03h0M360.3 122.64h0M432.22 98.71h0M360.07 108.32h0M332.43 159.34h0M451.34 77.95h0M400.84 145.8h0M457.04 56.82h0M463.94 56.99h0M479.6 39.3h0M437.8 48.4h0M450.3 51.9h0M397.1 69.2h0M398.1 79.1h0M468.1 83.2h0M454.5 110.4h0M444.1 114.6h0M446.1 127.1h0M357.8 98.1h0M340.1 107.5h0M365.1 166h0M389.1 156.6h0M414.2 144.1h0M381.8 60.4h0M369.2 67.7h0M396.4 69.8h0M384.9 74h0M341 70.9h0M345.2 85.5h0M344.2 91.8h0M359.8 80.3h0M368.2 84.4h0M425.6 58.4h0M431.9 137.7h0M429.8 133.5h0M436 146h0M438.1 48.8h0M381.5 61h0M370.8 67.7h0M397.7 70.4h0M467.7 82.5h0M454.2 110.8h0M446.2 126.9h0M417.3 145.2h0M414.6 142.5h0M350 108.8h0M428.1 137.1h0M447 125h0M363.5 166.7h0M339.5 70h0M381 58h0" stroke="#000" stroke-width="3.4" stroke-linecap="round" fill="none"/>
<path d="M449.7 66.5h0M440.3 75.9h0M407.5 105.2h0M405.4 116h0M406.9 105h0M404.8 115.9h0M381.8 117.5h0M383.9 123.2h0M386 127.4h0M392.2 121.7h0M375.5 127.4h0M377.6 128.4h0M370.3 132.2h0M371.4 135.1h0M381.4 132.6h0M362 141.3h0M365.1 140.5h0M358.4 149.3h0M367.6 150.3h0M348.8 148.9h0M343.2 151.4h0M346.3 155.5h0M347.4 157.6h0M336.9 163.5h0M349.4 147.1h0" stroke="#f2453d" stroke-width="3.7" stroke-linecap="round" fill="none"/>
<rect x="42.4" y="261.7" width="195.1" height="173.1" fill="none" stroke="#bababa" stroke-width="1.05"/>
<text x="0.86" y="262.3" font-size="26.8" font-weight="bold">C</text>
<text x="43" y="255.9" font-size="13.26" font-weight="bold">M50 Gene Expression Analysis</text>
<text x="40.98" y="268.6" font-size="14" text-anchor="end">16</text>
<text x="40.8" y="349.5" font-size="14" text-anchor="end">8</text>
<text x="39.8" y="438.8" font-size="14" text-anchor="end">0</text>
<text x="44" y="452.7" font-size="14" text-anchor="middle">0</text>
<text x="135.65" y="451.82" font-size="14" text-anchor="middle">8</text>
<text x="236.72" y="451.82" font-size="14" text-anchor="middle">16</text>
<text x="81.3" y="468" font-size="13.85">Adjacent Normal</text>
<text transform="translate(26.7,346.1) rotate(-90)" font-size="14.1" text-anchor="middle">Tumor</text>
<text x="58.8" y="274.4" font-size="11.75">Control</text>
<text x="58.8" y="290.6" font-size="11.75">Integrant</text>
<text x="155.1" y="424.4" font-size="24.4">p=0.50</text>
<circle cx="51.2" cy="270" r="1.45" fill="#000"/>
<circle cx="51.2" cy="286.3" r="1.45" fill="#d03c40"/>
<polygon points="72.52,407.55 76.56,407.12 84.04,403.34 84.11,403.31 92.27,399.32 100.35,394.26 100.76,394.03 108.75,390.04 116.68,384.02 117.24,383.65 122.54,380.65 122.76,380.53 129.17,377.32 134.79,372.32 140.78,365.1 146.89,357.02 153.06,348.55 153.51,348.02 159.81,341.52 159.95,341.38 164.15,337.38 164.66,336.95 170.59,332.65 176.62,326.91 182.86,320.76 188.72,314.82 192.55,309.16 196.65,301.93 196.67,301.91 200.85,294.63 202.62,291.48 199.52,293.03 191.64,299.39 191.06,299.8 182.76,304.73 174.56,310.17 174.54,310.18 166.14,315.68 165.98,315.78 157.68,320.78 157.46,320.91 149.17,325.35 140.98,330.28 140.6,330.49 140.21,330.66 139.8,330.8 129.51,333.8 121.72,336.11 118.25,338.18 112.66,342.24 106.84,348.71 100.95,356.3 96.04,364.75 92.69,373.74 92.66,373.81 88.86,383.61 88.72,383.95 88.54,384.27 84.44,391.47 84.16,391.91 78.86,399.31 78.63,399.61 73.71,405.48" fill="#000"/>
<path d="M182.03 323.49h0M200.16 299.29h0M141.01 382.29h0M141.64 326.79h0M136.92 381.36h0M134.48 330.5h0M202.43 302.64h0M167.09 341.88h0M164.55 344.06h0M153.37 358.54h0M200.16 298.17h0M178.15 333.88h0M158.18 346.29h0M139.47 371.23h0M179.7 326.39h0M110.2 392.13h0M91.29 368.44h0M126.14 331.7h0M183.96 303.11h0M161.73 358.96h0M150.17 319.09h0M101.68 348.03h0M161.65 314.92h0M181.29 304.63h0M190.52 299.21h0M98.14 358.03h0M189.29 327.47h0M131.59 379.64h0M84.81 383.62h0M195.68 323.55h0M142.82 368.06h0M132.37 376.18h0M79.85 396.37h0M116.69 387.22h0M198.42 323.31h0M132.2 326.59h0M202 297.3h0M106.91 392.35h0M88.14 383.52h0M190.14 299.52h0M90.29 374.06h0M195.95 291.85h0M127.74 330.79h0M158.68 347.49h0M107.03 392.7h0M104.46 393.63h0M108.25 344.94h0M89.49 361.52h0M116.95 384.25h0M176.18 327.97h0M94.3 368.42h0M105.45 338.18h0M184.28 320.63h0M74.55 407.37h0M137.89 329.32h0M95.23 340.42h0M96.58 398.43h0M183.52 294.13h0M162.81 311.98h0M199.22 304.55h0M172.6 335.58h0M154.77 319.65h0M125.85 385.73h0M93.07 365.32h0M163.64 316.09h0M119.65 385.55h0M84.1 405.68h0M97.75 341.9h0M159.72 318h0M206.83 310.15h0M203.36 294.29h0M206.68 289.54h0M146.96 324.46h0M151.83 352.08h0M201.32 288.09h0M148.09 323.15h0M138.18 387.23h0M70.04 407.5h0M140.76 368.48h0M118.06 334.22h0M76.72 411.57h0M204.04 291.87h0M152.79 356.44h0M182.54 298.65h0M201.19 303.89h0M184.02 323.81h0M114.06 333.91h0M77.72 410.11h0M137.57 372.17h0M67.8 410.04h0M164.66 338.64h0M162.19 341.34h0M85.37 403.61h0M187.24 300.98h0M75.19 407.79h0M194.75 323.94h0M139.15 330.01h0M151.31 356.81h0M173.45 330.45h0M193.7 323.74h0M116.76 336.97h0M209.94 282.58h0M199.42 307.94h0M104.15 395.87h0M156.21 315.14h0M146.79 323.48h0M166.19 315.01h0M145.05 326h0M101.91 339.66h0M202.96 287.79h0M90.36 402.5h0M153.52 380.91h0M72.51 407.94h0M92.92 366.26h0M131.65 376.44h0M100.78 400.64h0M103.94 394.75h0M100.33 345.97h0M175.84 308.71h0M81.57 405.23h0M196.62 305.21h0M116.53 338.73h0M92.54 359.28h0M138.87 368.9h0M168.53 313.65h0M202.98 294.05h0M162.03 342.12h0M80.28 392.35h0M80.97 395.38h0M128.02 333.59h0M198.08 307.59h0M75.33 397.26h0M145.34 320.32h0M113.2 337.48h0M195.95 324.84h0M166.4 336.44h0M195.5 306.03h0M84.91 404.17h0M132.91 377.44h0M161.04 314.6h0M119.62 336.33h0M102.98 394h0M114.76 393.6h0M207.4 290.42h0M139.67 372.54h0M107.74 391.26h0M136.94 331.57h0M199.8 292.64h0M94.74 367.38h0M98.64 358.29h0M129.94 377.16h0M128.63 322.13h0M201.59 290.58h0M95.92 362.79h0M93.21 398.95h0M104.14 394.1h0M139.2 367.99h0M139.28 318.12h0M99.79 394.97h0M151.14 321.14h0M194.69 308.47h0M198.11 304.74h0M161.29 343.87h0M156.07 347.95h0M189.77 297.56h0M174.57 334.38h0M131.6 332.46h0M198.3 303.02h0M77.11 401.01h0M132.72 376.4h0M136.63 329.8h0M166.61 341.12h0M88.91 401.58h0M117.95 325.42h0M175.6 329.41h0M192.41 309.79h0M110.95 391.52h0M198.21 303.16h0M130.75 333.09h0M143.88 368.4h0M193.89 308.98h0M160.92 356.64h0M82.81 393.19h0M105.73 394.92h0M195.85 321.52h0M154.6 347.71h0M198.83 299.64h0M92.25 372.22h0M136.15 379.74h0M181.14 325.54h0M79.17 407h0M72.32 403.22h0M96.03 356.37h0M97.4 399.75h0M206.9 298.45h0M68.68 408.51h0M133.14 374.6h0M114.27 335.5h0M106.9 392.79h0M103.78 349.7h0M78.74 398.61h0M201.57 290.03h0M134.47 322.83h0M169.73 311.27h0M147.52 379.43h0M92.09 401.07h0M101.29 395.82h0M185.64 301.63h0M149.57 360.03h0M202.15 313.39h0M175.08 306.46h0M189.8 293.31h0M157.44 344.63h0M99.83 343.18h0M130.75 332.2h0M72.9 405.4h0M123.96 333.66h0M73.24 400.38h0M150.7 352.01h0M193.34 308.84h0M82.54 391.26h0M102.16 352.5h0M133.96 327.52h0M170.97 309.7h0M123.52 389.1h0M211.26 288.44h0M157.27 347.8h0M162.06 342.39h0M71.72 404.53h0M137.57 369.59h0M143.49 366.79h0M210.56 285.46h0M165.83 339.82h0M109.44 399.3h0M194.16 296.1h0M196.11 311.59h0M137.67 370.6h0M138.54 378.6h0M179.86 306.01h0M120 389.62h0M100.72 355.31h0M184.88 321.98h0M112.76 393.84h0M156.58 318.56h0M74.52 402.48h0M91.42 373.68h0M143.91 326.01h0M121.18 384.39h0M198.8 315.88h0M93.87 403.03h0M111.8 341.23h0M201.95 305.25h0M122.24 383.89h0M196.31 306.46h0M116.38 397.21h0M178.98 302.61h0M83.09 391.97h0M76.16 399.92h0M212.97 280.88h0M68.37 409.93h0M126.84 331.84h0M178.05 326.53h0M206.93 291.25h0M71.76 400.29h0M67.65 405.47h0M144.62 364.65h0M165.48 339.16h0M129.91 382.2h0M138.29 374.01h0M86.56 385.44h0M133.88 332.37h0M82.04 407.71h0M99.83 353.97h0M159 317.71h0M143.24 321.53h0M74.85 397.88h0M105.51 344.44h0M128.56 382.21h0M65.83 409.23h0M83.99 405.03h0M106.62 347.8h0M147.84 320.16h0M118.69 385.85h0M114.04 337.59h0M137.52 372.76h0M80.07 396.01h0M170.7 332.69h0M148.19 324.29h0M90.17 400.95h0M172.27 307.54h0M198.53 302.59h0M103.02 350.32h0M107.79 347.59h0M88.44 380.29h0M150.1 323.31h0M113.65 340.82h0M76.56 408.22h0M145.34 365.57h0M155.29 352.03h0M168.45 336.11h0M163.79 315.49h0M146.63 326.45h0M136.8 388.79h0M89.87 374.15h0M98.15 351.65h0M108.11 390.75h0M71.31 403.51h0M89.67 377.25h0M176.54 308.09h0M199.1 302.26h0M162.06 353.77h0M96.5 397.23h0M103.25 341.46h0M123.54 333.59h0M182.1 297.69h0M139.24 372.35h0M92.33 401.28h0M138.77 369.71h0M158.63 316.48h0M126.2 392.56h0M125.39 332.13h0M75.55 407.78h0M118.32 328.39h0M90.26 369h0M200.47 291.89h0M78.4 399.02h0M165.62 312h0M81.25 394.72h0M144.39 324.73h0M134.99 377.66h0M165.94 355.82h0M166.14 337.97h0M75.36 391.21h0M203.57 304.88h0M79.59 395.7h0M121.24 381.43h0M201.35 290.66h0M185.45 302.59h0M94.58 361.05h0M155.96 348.2h0M84.4 390.61h0M74.99 409.32h0M165.39 337.1h0M107.06 392.18h0M202.52 289.65h0M199.23 313.88h0M147.6 357.64h0M122.87 383.42h0M71.42 406.89h0M127.02 322.83h0M160.5 317.22h0M119.65 384.22h0M148.01 361.12h0M85.78 374.63h0M87.38 402.97h0M195.59 307.94h0M197.39 323.16h0M105.71 347.38h0M147.01 361.87h0M186.88 301.15h0M169.88 308.56h0M81.69 407.26h0M150.91 318.66h0M177.25 328.76h0M189.06 344.81h0M193.57 311.57h0M109.38 341.39h0M123.08 333.78h0M99.81 341.67h0M151.06 373.07h0M151.63 323.71h0M198.19 310.1h0M138.83 382.5h0M199.25 321.4h0M193.74 311.55h0M122.7 326.63h0M149.74 356.01h0M174.51 305.06h0M204.88 302.09h0M131.07 332.2h0M163.52 346.32h0M67.8 411.05h0M155.19 351.59h0M189.19 295.13h0M107.82 345.4h0M199.99 292.34h0M135.73 375.52h0M91.72 373.27h0M96.12 396.99h0M201.01 296.39h0M128.97 321.63h0M97.14 342.46h0M107.47 345.09h0M163.4 340.53h0M199.14 291.51h0M130.21 330.62h0M193.84 307.5h0M134.02 332.11h0M169.01 311.56h0M180.94 326.87h0M151.11 317.84h0M151.96 351.62h0M104.37 394.83h0M203.3 300.16h0M188.72 296.16h0M92.22 364.52h0M74.3 402.56h0M207.19 301.62h0M187.24 324.05h0M117.72 389.25h0M132.93 390.98h0M162.41 340.68h0M173.38 340.11h0M139.62 328.09h0M142.72 326.44h0M190.38 297.61h0M112.11 339.48h0M108.88 396.31h0M212.46 289.9h0M209.03 288.7h0M102.6 352.89h0M99.39 395.55h0M176.07 309.17h0M191.61 314.4h0M143.34 381.67h0M96.09 399.41h0M126.94 333.23h0M98.41 400.87h0M177.74 331.86h0M135.22 329.08h0M104.62 350.48h0M95.56 397.88h0M135.85 326.6h0M107.66 343h0M85.12 381.38h0M89.21 402.47h0M203.35 284.78h0M98.55 398.49h0M88.22 402.07h0M132.69 376.6h0M95.47 350.92h0M101.9 396.92h0M96.01 354.65h0M181.71 322.03h0M86.07 387.57h0M112.98 391.92h0M208.42 285.8h0M167.73 336.82h0M112.77 341.03h0M203.11 295.11h0M88.45 377.16h0M99.75 403.37h0M162.65 345.54h0M128.87 388.13h0M85.78 388.45h0M90.77 375.07h0M172.53 310.64h0M170.68 311.32h0M122.79 382.54h0M188.35 297.39h0M85.88 407.14h0M109.47 339.14h0M136.71 327.64h0M198.2 293.79h0M71.73 402.93h0M128.38 385.66h0M171.2 338.38h0M200.59 295.94h0M144.64 364.77h0M193.45 335.23h0M69.42 411.61h0M192.81 308.85h0M80.25 370.45h0M135.5 330.94h0M94.28 399.07h0M163.54 338.59h0M83.88 404.93h0M174.21 300.97h0M161.87 316.73h0M191.64 296.36h0M149.77 355.13h0M194.67 306.8h0M134.55 329.94h0M180.48 303.91h0M182.22 321.55h0M189.01 314.9h0M170.78 334.91h0M199.95 307h0M73.4 409.53h0M186.25 318.05h0M103.5 352.38h0M157.6 317.26h0M89.62 379.51h0M104.06 349.94h0M149.84 323.77h0M118.34 385.35h0M76.28 401.57h0M205.82 297.01h0M205.48 292.81h0M122.82 387.36h0M120.58 383.31h0M108.4 342.48h0M110.26 389.32h0M177.86 338.82h0M107.16 347.25h0M179.22 325.97h0M164.88 341.63h0M174.73 308.2h0M94.15 399.87h0M160.85 340.75h0M92.32 368.51h0M132.84 387.53h0M155.37 348.51h0M128.12 382.97h0M132.75 376.1h0M154.75 321.26h0M168.56 312.68h0M134.45 331.94h0M158.79 344.72h0M153.79 321.61h0M90.4 401.46h0M132.64 329.74h0M111.25 340.48h0M177.45 305.63h0M99 398.22h0M77.83 407.22h0M187.69 297.45h0M202.53 286.8h0M117.08 384.22h0M147.89 373.33h0M88.91 401.03h0M85.69 405.93h0M138.01 371.53h0M134.47 373.31h0M185.31 298.42h0M196.4 292.43h0M163.8 348.03h0M102.64 350.85h0M93.81 399.37h0M154.39 374.93h0M88.69 381.52h0M87.21 375.95h0M84.56 381.61h0M156.16 345.87h0M95.71 358.19h0M143.63 364.16h0M147.78 361.34h0M144.66 319.48h0M91.96 370.42h0M136.8 317.94h0M145.51 383.52h0M170.52 311.75h0M115.31 392.64h0M156.66 321.02h0M78.85 392.28h0M110.86 389.46h0M115.26 387.03h0M77.36 409.8h0M197.45 303.4h0M200.99 323.56h0M90.75 402.64h0M153.42 358.35h0M153.5 356.74h0M81.79 394.08h0M145.69 325.6h0M137.41 375.51h0M109.27 337.15h0M190.23 313.75h0M118.37 337.18h0M103.92 347.49h0M113.96 389.04h0M167.88 312.26h0M170.05 310.75h0M117.58 337.11h0M183.52 321.02h0M180.24 326.28h0M139.07 320.1h0M150.91 317.7h0M93.2 367.74h0M148.52 322.11h0M150.91 322.7h0M94.91 353.22h0M91.19 377.61h0M89.64 377.06h0M125.18 333.55h0M165.27 311.58h0M103.24 349.23h0M136.56 374.66h0M187.83 322.46h0M147.61 358.97h0M134.04 385.55h0M144.74 326.81h0M64.69 408.91h0M174.57 332.97h0M190.71 296.78h0M88.77 376.76h0M96.83 359.79h0M184.48 303.3h0M182.24 326.08h0M164.39 340.74h0M149.38 354.26h0M150.7 323.17h0M129.81 331.72h0M95.75 399.58h0M76.86 411.73h0M86.96 380.63h0M91.67 404.3h0M157.02 320.43h0M78.7 386.57h0M150.79 365.23h0M176.02 338.45h0M151.63 368.6h0M96.2 399.88h0M196.64 290.47h0M163.57 307.91h0M194.13 293.32h0M164.13 363.51h0M148.67 358.28h0M205.26 287.24h0M68.32 409.89h0M206.59 283.3h0M157.12 345.19h0M132.86 330.52h0M87.3 378.87h0M74.51 401.11h0M84.13 390.9h0M104.56 392.76h0M164.81 355.03h0M85.75 404.91h0M166.5 313.92h0M84.49 387.32h0M190.74 336.18h0M165.96 337.14h0M103.23 393.11h0M82.7 388.59h0M124.26 383.95h0M185.15 301.63h0M143.27 364.04h0M157.03 316.06h0M88.15 402.79h0M190.57 312.14h0M191.26 312.33h0M134.8 385.49h0M204.73 289.21h0M105.21 350.15h0M73.65 408.33h0M154.64 346.99h0M196.92 311.86h0M98.22 396.24h0M190.88 313.75h0M124.62 394.45h0M129.61 386.5h0M146.34 315.56h0M169.41 312.9h0M112.72 387.07h0M97.08 355.18h0M90.88 400.91h0M171.68 332.72h0M72.48 407.18h0M184.13 303.12h0M203.74 292.99h0M202.58 301.78h0M163.18 342.64h0M185.68 302.47h0M184.17 324.29h0M178.26 331.52h0M166.49 341.22h0M144.58 327.83h0M141.52 364.65h0M142.9 363.24h0M81.27 392.74h0M76.34 396.63h0M164.38 312.95h0M172.02 335.71h0M196.83 290.93h0M94.14 398.76h0M198.69 298.77h0M165.45 339.06h0M199.29 300.16h0M173.62 305.67h0M160.58 359.59h0M78.26 385.03h0M157.19 345.79h0M203.79 292.05h0M118.08 385.25h0M103.79 396.67h0M82.71 406.1h0M160.08 318.72h0M151 359.27h0M78.53 398.65h0M172.68 311.26h0M129.14 333.04h0M125.18 325.13h0M211.52 281.56h0M116.59 384.79h0M160.08 315.03h0M201.71 291.57h0M112.71 337.33h0M87.3 363.02h0M196.02 313.47h0M90.92 374.99h0M169.64 309.5h0M147.56 383.35h0M102.76 345.97h0M111.25 397.13h0M173.41 341.69h0M183.03 325.99h0M107.3 393.85h0M151.36 352.2h0M116.09 387.29h0M182.79 302.46h0M113.59 389.74h0M181.88 340.42h0M85.25 381.22h0M96.5 357.84h0M170.48 309.15h0M94.61 399.18h0M177.54 326.17h0M98.64 357.65h0M84.1 388.49h0M177.95 330.89h0M211.37 280.21h0M190.27 296.33h0M131.86 378.85h0M167.53 336.05h0M75.73 401.18h0M144.27 369.5h0M78.22 408.17h0M122.77 383.93h0M186.16 325.09h0M137.63 325.3h0M152 350.41h0M142.78 366.48h0M154.44 320.09h0M133.24 332.07h0M74.73 410.37h0M143.24 317.05h0M187.82 300.44h0M186.37 300.87h0M162.42 351.17h0M144.98 359.86h0M157.89 344.37h0M189.38 323.17h0M165.25 312.62h0M142.3 322.06h0M101.84 393.66h0M212.56 283.87h0M208.82 292.15h0M129.49 332.55h0M81.87 393.8h0M187.41 328.3h0M190.56 314.21h0M165.98 338.17h0M120.33 385.93h0M72.39 410.75h0M119.51 333.89h0M201.25 287.85h0M180.27 329.43h0M146.29 319.76h0M185.69 301.75h0M78.93 408.23h0M186.4 299.15h0M177.3 304.83h0M178.36 297.58h0M76.52 392.93h0M104.87 334.46h0M98.11 396.2h0M94.25 368.54h0M94.49 366.84h0M151.16 352.98h0M146.27 358.45h0M195.89 306.57h0M209.01 287.79h0M134.18 385.21h0M161.96 347.75h0M151.28 361.75h0M79.75 407.67h0M207.55 287.95h0M155.69 317.77h0M189.18 318.8h0M85.03 383.17h0M187.63 330.13h0M184.6 302.35h0M90.85 373.73h0M195.16 293.46h0M159.85 315.35h0M134.73 379.8h0M111.6 392.5h0M88.38 407.85h0M149.31 355.07h0M112.35 341.6h0M141.58 325.01h0M180.7 323.41h0M172.91 311.2h0M111.64 341.8h0M147.23 357.62h0M97.38 359.1h0M126.6 381.96h0M195.74 317.37h0M105.5 347.89h0M78.83 406.94h0M90.11 373.72h0M127.23 381.16h0M155.47 373.97h0M179.79 325.02h0M158.88 349.77h0M93.83 403.98h0M73.02 406.64h0M91.24 362.8h0M120.68 332.03h0M188.81 339.63h0M101.36 396.04h0M134.2 332.34h0M153.37 359.03h0M146.76 381.46h0M79.46 409.03h0M73.5 408.26h0M150.87 353.2h0M200.23 290.11h0M158.51 346.87h0M190.06 317.59h0M163.45 314.9h0M203.03 316.91h0M139.11 372.75h0M203.81 296.73h0M105.96 342.94h0M80.09 393.07h0M183.61 323.17h0M191.65 296.35h0M153.35 349.25h0M204.97 320.05h0M171.02 307.63h0M183.67 320.81h0M154.52 371.68h0M125.62 394.58h0M89.98 373.49h0M124.83 383.05h0M91.32 370.58h0M172.8 332.64h0M166.24 344.37h0M177.77 347.5h0M159.39 349.82h0M131.79 389.47h0M72.75 400.41h0M75.11 409.23h0M112.06 338.1h0M189 298.46h0M198.6 310.86h0M88.75 380.62h0M82.34 377.01h0M100.2 349.31h0M205.44 291.84h0M129.18 332.55h0M81.28 384.98h0M173.23 309.63h0M144.56 365.5h0M72.23 404.49h0M195.5 311.3h0M101.91 346.24h0M196.9 311.29h0M72.39 407.6h0M170.37 301.52h0M196.04 295.36h0M163.04 339.9h0M180.87 332.86h0M74.35 399.78h0M161.62 317.57h0M88.18 345.61h0M177.01 344.49h0M202.06 295h0M148.02 359.31h0M158.59 314.33h0M85.03 389.97h0M82.42 408.54h0M153.62 351.42h0M163.97 313.11h0M72.86 406.74h0M98.35 347.55h0M206.41 291.65h0M207.16 288.86h0M107.43 391.14h0M165.76 369.86h0M69.72 409.25h0M155.67 316.88h0M159.69 316.41h0M113.79 330.45h0M160.32 315.16h0M139.04 330.07h0M155.98 321.4h0M115.67 392.57h0M171.29 340.04h0M168.69 347.96h0M87.48 401.69h0M83.78 405.45h0M170.39 345.57h0M108.75 343.9h0M89.62 349.46h0M78.14 387.24h0M200.24 295.81h0M163.62 341.87h0M140.65 329.44h0M78.7 394.02h0M153.03 321.17h0M67.43 408.37h0M180.85 300.86h0M83.87 387.67h0M95.88 403.46h0M163.33 340.43h0M145.28 323.32h0M100.91 356.35h0M134.22 374.03h0M111.66 389.11h0M88.01 404.16h0M108.73 345.71h0M192.3 312.21h0M140.83 327.76h0M85.74 358.62h0M167.86 314.38h0M192.64 312.32h0M165.57 338.8h0M77.34 406.81h0M100.24 352.71h0M131.99 378.28h0M120.84 332.16h0M198.96 316.43h0M196.76 305.4h0M77.57 406.86h0M76.05 400.32h0M152.48 322.45h0M180.15 327.46h0M181.55 302.07h0M182.53 304.77h0M164.32 342.75h0M88.64 378.52h0M203.89 293.82h0M209.74 284.95h0M97.53 399.51h0M76.72 393.8h0M82.76 391.28h0M123.84 333.29h0M72.58 402.4h0M124.94 333.53h0M91.64 353.05h0M165.16 367.93h0M179.01 344.33h0M146 322.64h0M116.89 388.31h0M67.19 411.68h0M96.43 358.72h0M129.57 327.44h0M87.85 401.62h0M197.25 321.48h0M95.17 400.11h0M176.96 307.93h0M100.19 398.34h0M153.7 320.17h0M149.81 320.96h0M84.95 389.79h0M91.75 402.85h0M193.6 344.68h0M153.42 353.9h0M86.47 385.11h0M173.14 356.65h0M131.64 376.93h0M202.01 291.25h0M133.76 376h0M206.19 293.03h0M159.44 314.72h0M126.17 330.73h0M119.33 336.59h0M195.96 308.35h0M116.23 335.09h0M192.35 310.57h0M95.88 364.18h0M110.18 394.08h0M192.94 292.82h0M164.22 316.13h0M157.33 320.89h0M74.11 402.99h0M189.49 314.48h0M148.64 363.71h0M84.28 386.89h0M189.28 299.84h0M187.61 300.2h0M149.06 355.05h0M144.01 367.32h0M148.19 369.62h0M93.85 362.91h0M172.4 331.86h0M190.24 298.63h0M179.72 330.64h0M170.4 333.23h0M110.8 343.61h0M96.71 356.09h0M182.41 348.4h0M164.64 348.36h0M168.58 338.06h0M163.23 317.36h0M162.23 314.52h0M141.07 329.74h0M141.35 367.04h0M76.22 410.5h0M197.88 304.7h0M115.17 339.62h0M85.92 384.62h0M129.77 378.13h0M123.03 334.83h0M182.56 323.78h0M155.91 354.96h0M88.32 372.56h0M157.39 318.59h0M161.23 343.56h0M95.16 363.71h0M119.71 337.23h0M83.17 388.23h0M120.44 336.17h0M124.81 380.1h0M77.5 411.4h0M185.96 345.17h0M116.91 386.78h0M122.25 383.26h0M180.35 304.44h0M151.51 322.86h0M81.71 406.71h0M92.4 363.24h0M79.75 405.73h0M173.52 303.81h0M102.54 395.55h0M173.27 310.64h0M108.29 346.7h0M81.47 407.25h0M184.57 343.96h0M117.08 385.82h0M135.16 374.33h0M169.45 335.58h0M84.77 389.34h0M173.46 309.95h0M87.94 373.78h0M209.17 282.71h0M124.65 333.83h0M76.75 384.37h0M129.89 332.4h0M202.23 287.37h0M83.16 391.67h0M167.18 311.98h0M133.35 331.53h0M88.76 382.59h0M93.67 362.59h0M102.6 394.95h0M134.46 331.43h0M208.37 285.22h0M146.47 362.72h0M98.78 396.2h0M86.68 378.01h0M99.55 354.04h0M112.65 390.39h0M131.74 331.9h0M160.54 346.36h0M134.74 378.64h0M207.69 290.05h0M193.21 294.79h0M153.35 350.05h0M74.29 412.05h0M90.7 371.77h0M153.29 319.89h0M194.98 290.07h0M80.05 396.74h0M87.3 403.7h0M84.52 390.85h0M71.86 410.8h0M106.08 346.66h0M108.29 391.69h0M126.26 381.89h0M193.83 309.51h0M186.57 319.08h0M202.43 299.17h0M160.06 345.54h0M113.37 388.85h0M85.3 403.3h0M169.15 334.39h0M157.74 317.85h0M162.34 343.14h0M85.25 387.96h0M134.42 374.53h0M160.65 315.38h0M78.65 397.76h0M115.61 397.08h0M203.8 294.45h0M204.19 303.69h0M102.58 394.89h0M74.32 409.42h0M100.2 398.89h0M96.9 396.57h0M110.4 390.58h0M184.18 301.93h0M189.12 317.95h0M140.3 324.79h0M179.49 327.24h0M69 409.96h0M186.74 331.39h0M149.48 358.42h0M169.46 308.77h0M199.92 296.48h0M181.63 303.4h0M148.08 357.07h0M150.71 353.5h0M172.51 336.16h0M89.19 372.67h0M195.65 306.08h0M99.11 344.95h0M165.13 348.54h0M153.57 318.9h0M153.84 319.66h0M160.45 311.75h0M181.8 337.76h0M146.76 320.37h0M172.4 337.02h0M87.53 379.53h0M111.09 394.5h0M102.12 353.94h0M100.98 352.79h0M187.89 325.58h0M140.27 329.12h0M125.47 332.84h0M102.83 395.91h0M91.38 402.35h0M112.78 392.3h0M150.05 324.06h0M203.6 289.92h0M147.01 322.66h0M83.5 391.89h0M141.82 367.84h0M177.2 330.98h0M99.82 355.56h0M69.89 411.52h0M78.77 390.67h0M187.75 319.46h0M82.52 406.6h0M196.72 291.88h0M113.7 387.11h0M106.97 346.12h0M134.56 329.59h0M90.55 377.37h0M171.68 309.58h0M158.3 347.26h0M197.7 315.79h0M101.93 398.01h0M184.86 338.06h0M152.86 352.79h0M109.71 338.24h0M172.21 310.98h0M133.54 332.25h0M150.9 352.77h0M196.06 313.59h0M150.13 323.73h0M94.67 400.76h0M89.16 368.16h0M135.39 373.55h0M92.37 363.41h0M94.72 363.32h0M132.4 376.95h0M162.23 316.49h0M190.64 295.69h0M114.56 388.73h0M170.63 311.64h0M71.29 407.38h0M78.07 393.5h0M199.13 288.82h0M131.63 329.63h0M209.11 284.05h0M162.8 355.01h0M95.43 363.98h0M98.58 356.52h0M86.74 402.71h0M145.82 365.01h0M174.93 332.87h0M142.42 364.82h0M212.8 283.63h0M106.18 339.68h0M153.54 352.84h0M83.33 393.03h0M182.81 303.01h0M116.71 387.15h0M140.4 295.1h0M142.5 296.7h0M189.5 284.6h0M155.1 308.6h0M167.6 305.5h0M138.4 312.8h0M146.7 314.9h0M208.3 326.4h0M209.3 332.6h0M208.3 337.8h0M202 321.1h0M202 348.3h0M188.5 360.8h0M192.6 342h0M97.8 302.5h0M119.7 303.1h0M81.1 312.9h0M105.1 306.3h0M107.2 312.5h0M123.9 314.6h0M138.5 312.9h0M146.9 314.6h0M92.2 319.8h0M104.1 326.1h0M107.2 327.1h0M94.7 330.3h0M99.9 334.4h0M98.8 336.5h0M81.1 341.8h0M88.4 349.1h0M78 373.1h0M76.9 385.6h0M139.6 397.1h0M142.7 396h0M150 388.7h0M130.2 395.3h0M134.3 397.4h0M146.9 396.4h0M89.4 406.8h0M106.1 401.6h0M209.3 326.3h0M208.9 336.7h0M203.1 348.2h0M202 320h0M188.5 360.7h0M185.3 357.6h0M188.5 370.1h0M184.3 371.1h0M174.9 375.3h0M179.1 376.4h0M171.8 376.4h0M189.5 382.6h0M162.4 376.4h0M160.3 382.6h0M196.8 391h0M171.8 392h0M167.6 394.1h0M173.8 398.3h0M179.1 396.2h0M183.9 395.2h0M147.7 396.2h0M154 397.2h0M156.1 403.1h0M134.2 398.3h0M120.2 303.7h0M105.4 313.1h0M209 326.5h0M210.4 334.6h0M202.3 348.1h0M157.3 402.7h0M149 300h0M93 297h0M112 309h0" stroke="#000" stroke-width="3.4" stroke-linecap="round" fill="none"/>
<path d="M190.5 310.7h0M170.3 330.1h0M148.4 336.8h0M101.3 350.1h0M112.4 361.6h0M121.8 362.6h0M127.7 360.5h0M112.4 378.9h0M148.5 337h0M95.7 387.7h0M94.7 389.8h0M89.4 391.9h0M82.1 401.6h0M81.1 402.6h0M77.5 407.2h0M170.7 330h0" stroke="#f2453d" stroke-width="3.7" stroke-linecap="round" fill="none"/>
<rect x="304.3" y="261.4" width="194" height="173.5" fill="none" stroke="#bababa" stroke-width="1.05"/>
<text x="259.3" y="265.26" font-size="26.8" font-weight="bold">D</text>
<text x="305.7" y="256" font-size="13.15" font-weight="bold">M60 Gene Expression Analysis</text>
<text x="302" y="268.1" font-size="14" text-anchor="end">16</text>
<text x="302.5" y="349.87" font-size="14" text-anchor="end">8</text>
<text x="301.3" y="440.05" font-size="14" text-anchor="end">0</text>
<text x="303.5" y="452.46" font-size="14" text-anchor="middle">0</text>
<text x="399.65" y="452.06" font-size="14" text-anchor="middle">8</text>
<text x="496.72" y="452.06" font-size="14" text-anchor="middle">16</text>
<text x="345.78" y="468.25" font-size="13.85">Adjacent Normal</text>
<text transform="translate(287.8,345.88) rotate(-90)" font-size="14.1" text-anchor="middle">Tumor</text>
<text x="320.3" y="274.9" font-size="11.75">Control</text>
<text x="320.3" y="291.1" font-size="11.75">Integrant</text>
<text x="414.2" y="423.4" font-size="24.3">p=0.</text>
<circle cx="313.1" cy="269.7" r="1.45" fill="#000"/>
<circle cx="313.1" cy="286" r="1.45" fill="#d03c40"/>
<polygon points="334.82,408.03 338.92,407.6 346.4,404.71 354.57,400.72 362.84,396.54 362.86,396.53 371.25,392.33 379.17,388.33 387.2,382.4 395.48,376.12 396.05,375.74 402.38,372.19 410.5,366.2 418.78,359.92 418.97,359.77 427.99,353.6 434.89,347.9 440.62,340.49 444.36,331.14 444.38,331.08 448.88,320.28 449.08,319.87 449.31,319.47 453.41,313.17 453.46,313.1 457.48,307.17 461.51,299.11 463.31,295.32 455.67,299 455.42,299.12 447.15,302.56 439.07,306.46 430.76,310.91 422.51,315.33 399.43,329.75 392.38,339.03 392.08,339.39 391.74,339.72 391.37,340.02 390.98,340.28 390.57,340.51 380.2,345.49 372.36,349.41 366.06,353.01 360.65,358.42 356.71,362.89 352.82,369.94 348.68,378.13 344.59,386.49 344.56,386.56 340.37,394.85 336.37,402.85" fill="#000"/>
<path d="M353.02 365.03h0M418.88 311.21h0M467.55 287.45h0M406.85 324.53h0M372.84 348.74h0M462.44 303.75h0M462.21 295.77h0M428.62 355.71h0M357.38 359.82h0M419.85 313.36h0M349.39 376.19h0M364.74 352.17h0M421.6 307.33h0M455.2 310.6h0M348.32 374.96h0M367.21 398.23h0M462.24 317.86h0M360.51 402.02h0M350.53 367.24h0M429.32 308.12h0M395.94 331.02h0M366.33 398.53h0M451.5 324.32h0M411.12 318.5h0M416.21 365.56h0M360.04 358.69h0M439.72 299.45h0M351.96 366.7h0M444.36 300.19h0M428.91 353.56h0M346.76 406.07h0M349.18 376.36h0M374.48 331.46h0M442.43 304.57h0M426.1 358.38h0M457.37 313.28h0M401.53 375.99h0M464.48 295.36h0M444.14 303.15h0M401.23 385.36h0M342.95 408.71h0M428.71 355.48h0M338.42 374.76h0M396.89 385.68h0M472.22 282.05h0M420.53 360.59h0M422.03 309.17h0M376.92 343.36h0M417.68 367.71h0M400.32 326.67h0M408.98 369.08h0M442.97 347.76h0M412.55 319.08h0M461.01 307.31h0M349.72 369.3h0M413.74 366.82h0M344.32 385.29h0M352.3 357.87h0M353.38 348.28h0M355.16 352.54h0M443.37 341.49h0M451.69 295.93h0M330.5 408.98h0M385.86 389.67h0M454.44 295.17h0M367.54 397.42h0M419.68 361.89h0M352.21 367.43h0M350.01 372.4h0M456.13 325.06h0M450.31 299.63h0M463.15 299.86h0M343.14 385.45h0M424.96 359.76h0M452.4 320.31h0M425.39 311.86h0M441.81 301.93h0M442.89 344.23h0M337.2 398.38h0M366.72 340.99h0M458.79 313.8h0M453.29 298.7h0M349.69 374.23h0M461.77 302.82h0M425.02 361.12h0M418.71 313.32h0M396.55 332.57h0M460.92 304.45h0M365.94 341.88h0M427.21 305.27h0M362.9 396.55h0M435.8 307.74h0M445.1 342.82h0M380.29 344.44h0M456.05 315.89h0M377.67 343.49h0M345.85 378.77h0M384.85 342.11h0M418.75 315.34h0M408.6 372.91h0M341.27 387.71h0M408.88 319.49h0M347.25 374.52h0M334.58 401.77h0M465.54 314.08h0M466.77 292.84h0M381.76 344.5h0M348.54 373.21h0M378.04 390.09h0M393.48 380.35h0M423.84 358.19h0M376.8 393.48h0M396.14 329.45h0M350.6 351.71h0M350.19 404.88h0M432.63 303.26h0M423.5 309.71h0M442.77 338.04h0M369.94 346.05h0M339.19 393.43h0M452.54 297.56h0M427.64 354.6h0M422.99 310.56h0M421.07 312.04h0M413.53 364.25h0M368.43 396.26h0M343.64 369.3h0M347.09 404.8h0M462.12 294.4h0M441.39 351.34h0M387.51 382.25h0M391.41 388.7h0M385.59 384.34h0M465.03 309.37h0M454.01 314.68h0M374.29 393.03h0M451.5 299.83h0M336.6 381.93h0M346.15 383.27h0M364.93 398.04h0M418.47 360.34h0M337.06 409.77h0M422.28 360.9h0M406.76 320.33h0M381.48 390.91h0M465.78 294.03h0M378.47 346.05h0M366.8 342.98h0M459.52 293.52h0M336.11 411.61h0M452.35 321.29h0M350.19 403.83h0M348.65 375.19h0M447.4 331.25h0M453.22 329.07h0M401.91 372.51h0M399.69 374.3h0M426.14 310.75h0M349.7 372.69h0M360.48 356.98h0M453.19 296.27h0M426.63 312.2h0M450.07 297.11h0M447.35 325.3h0M373.83 333.84h0M332.05 406.22h0M471.74 286.98h0M457.05 297.42h0M386.25 386.62h0M461.54 309.13h0M415.43 316.87h0M455.12 298.28h0M332.39 408.15h0M458.96 294.5h0M333.58 403h0M365.66 353.41h0M361.66 356.38h0M390.94 335.77h0M356.36 361.44h0M405.55 378.93h0M472.86 285.36h0M432.92 308.04h0M332.84 402.97h0M448.22 325.76h0M443.2 342.68h0M455.64 310.68h0M414.94 364.95h0M428.8 311.44h0M410.76 366.5h0M428.14 307.11h0M458.68 310.09h0M394.31 335.57h0M358.04 400.87h0M332.44 407.22h0M335.19 411.5h0M379.7 389.79h0M331.67 410.16h0M441.25 343.26h0M382.59 342.47h0M434.89 352.81h0M436.49 350.49h0M377.06 346.63h0M472.22 285.43h0M388.36 339.77h0M434.21 352.18h0M382.21 343.85h0M428.53 311.12h0M423.64 359.4h0M459.88 316.7h0M390.55 379.98h0M449.77 299.1h0M353.98 403.86h0M354.76 361.04h0M445.87 297.65h0M389.98 381.28h0M413.61 369.2h0M366.31 398.9h0M453.79 321.42h0M432.03 308.94h0M409.91 323.03h0M356.45 361.9h0M359.26 401.88h0M413.87 364.08h0M434.62 352.68h0M363.36 345.66h0M386.78 385.45h0M340.13 391.7h0M447.24 339.89h0M449.86 321.21h0M461.3 302.2h0M349.09 371.08h0M357.25 352.18h0M395.88 377.35h0M330.39 405.51h0M378.54 343.9h0M373.02 391.9h0M412.38 371.82h0M392.77 379.08h0M350.9 403.96h0M343.14 377.62h0M443.54 334.48h0M421.79 311.97h0M454.98 318.17h0M433.27 307.63h0M442.02 300.64h0M371.25 392.79h0M450.99 300.46h0M418.9 364.09h0M338.81 396.28h0M449.01 323.36h0M443.68 339.31h0M418.01 363.22h0M457.32 311.38h0M371.88 345.25h0M475.59 281.55h0M382.12 341.41h0M400.94 327.59h0M393.46 329.56h0M403.39 373.19h0M346.97 404.65h0M397.33 330.23h0M344.02 383.72h0M400.32 325.34h0M442.4 303.52h0M385.85 341.4h0M341.4 410.26h0M428.21 308.36h0M401.19 327.93h0M437.28 305.64h0M423.45 310.51h0M437.56 305.14h0M389.69 382.07h0M402.28 374.82h0M467.25 287.64h0M335.86 398.94h0M462.22 294.96h0M455.26 314.28h0M410.48 369.91h0M460.68 292.85h0M365.56 397.57h0M426.04 355.24h0M367.15 328.3h0M381.13 343.87h0M374.25 341.29h0M418.48 362.64h0M339.28 393.74h0M389.36 340.09h0M371.59 337.41h0M364.22 402.78h0M368.04 397.42h0M335.42 397.59h0M427.31 356.82h0M350.17 403.7h0M384.17 341.43h0M388.59 384.06h0M453 315.62h0M352.98 351.28h0M334.84 400.3h0M451.55 300.56h0M449.01 299.68h0M399.72 327.1h0M395.51 378.68h0M379.52 389.83h0M387.94 334.22h0M337.26 409.12h0M431.88 307.6h0M446.71 334.79h0M362.35 399.68h0M353.43 365.96h0M437.8 305.29h0M463.26 290.4h0M436.95 305.73h0M336.27 395.73h0M424.49 307.64h0M377.66 340.97h0M336.75 408.54h0M439.24 303.16h0M421.28 315.78h0M338.03 398.06h0M434.18 348.56h0M334.53 409.6h0M337.55 409.87h0M379.39 343.65h0M430.14 356.72h0M345.71 406.76h0M383.84 343.05h0M415.35 318.34h0M456.87 297.69h0M390.77 334.6h0M355.26 347.29h0M446.16 329.3h0M332.12 406.72h0M342.57 386.36h0M368.09 345.95h0M428.63 364.24h0M351.46 368.95h0M333.76 398.33h0M356.6 360.31h0M382.46 329.44h0M375.27 346.23h0M341.43 388.17h0M401.5 374.77h0M385.84 386.19h0M338.96 408.56h0M461.7 291.97h0M384.57 343.35h0M466.32 292.6h0M459.65 303.47h0M373.4 346.14h0M361.12 334.35h0M351.67 368.39h0M407.01 322.39h0M353.74 363.11h0M440.08 341.73h0M451.92 318.07h0M356.92 355.58h0M409.72 367.07h0M400.2 373.8h0M458.51 311.29h0M364.17 350.61h0M451.98 297.59h0M355.08 360.96h0M358.19 403.04h0M442.93 341.16h0M384.14 385.04h0M426.29 361.33h0M433.14 301.41h0M351.57 366.44h0M384.14 335.99h0M330.91 413.15h0M444.59 343.01h0M425.87 360.19h0M377.32 393.72h0M383.01 324.4h0M332.43 407.44h0M333.68 404.91h0M448.05 327.05h0M339.33 410.31h0M431.08 353.26h0M460.57 307.51h0M440.29 303.48h0M360.93 356.32h0M469.68 291.81h0M419.57 375.31h0M452.03 319.2h0M468.65 287.48h0M435.15 352.27h0M447.58 327.13h0M371.71 394.85h0M351.33 402.81h0M353.98 361.59h0M380.6 326.19h0M362.88 344.69h0M441.06 302.95h0M419.17 316.16h0M448.37 326.81h0M332.89 412.63h0M398.22 378.59h0M414.06 373.89h0M359.41 356.63h0M340.66 390.33h0M412.45 368.91h0M377.21 390.15h0M371 345.16h0M374.46 394.49h0M381.98 341.34h0M438 344.98h0M359.5 356.96h0M416.47 365.31h0M461.45 293.74h0M432.98 352.05h0M452.95 314.07h0M453.74 297.04h0M420.91 374.23h0M453.01 322.07h0M451.59 320.65h0M416.9 370.41h0M435.22 303.04h0M376.94 345.02h0M352.38 361.83h0M447.88 334.3h0M377.1 343.45h0M369 394.63h0M413.07 371.51h0M447.85 325.77h0M343.1 389.01h0M337.1 382.2h0M435.1 351h0M377.74 391.17h0M337.65 399.19h0M337.31 399.06h0M364.4 352.53h0M333.14 408.05h0M331.04 411.92h0M336.57 396.79h0M345.09 410.18h0M435.94 306.66h0M394.33 323.81h0M465.79 289.75h0M411.9 318.91h0M448.41 340.43h0M413.26 366.5h0M352.91 366.79h0M462.59 301.79h0M349.82 373.69h0M467 289.92h0M433.92 353.64h0M419.17 361.72h0M447.93 325.81h0M357.86 399.99h0M398.42 319.75h0M428.74 354.49h0M352.48 351.98h0M401.94 373.3h0M415.18 308.91h0M332.17 400.76h0M411.11 321.42h0M361.74 399.43h0M382.57 386.42h0M365.35 353.44h0M356.44 363.11h0M463.97 299.3h0M356.49 361.05h0M458.86 295.76h0M376.83 389.52h0M404.03 322.86h0M348.57 407.13h0M465.14 310.72h0M355.83 357.27h0M416.59 364.28h0M408.25 371.25h0M366.55 397.15h0M398.8 329.16h0M464.43 295.77h0M363.75 350.67h0M352.29 370.79h0M393.02 381.96h0M349.33 367.29h0M335.96 404.07h0M356.9 401.38h0M427.14 312.8h0M464.4 294.5h0M454.12 297.37h0M435.21 351.62h0M455.2 316.67h0M368.37 348.98h0M337.31 394.8h0M393.63 335.42h0M433.78 350.06h0M349.9 404.28h0M432.39 356.79h0M387.31 384.31h0M463.4 301.54h0M460.12 302.4h0M364.46 354.37h0M391.17 329.97h0M349.64 371.66h0M348.2 357.57h0M406.63 374.07h0M423.51 312.81h0M353.8 355.86h0M332.94 400.82h0M448.98 345.21h0M440.92 302.36h0M446.93 346.16h0M349.86 373.15h0M356.41 400.13h0M369.28 349.01h0M390.5 336.44h0M454.38 314.59h0M390.22 330.82h0M352.46 354.86h0M339.05 392.79h0M372.87 347.99h0M378.23 341.74h0M465.13 291.52h0M419.48 361.63h0M346.57 377.63h0M466.31 298.69h0M431.47 355.77h0M405.19 370.94h0M443.77 303.56h0M446.68 297.49h0M466.15 295.67h0M337.4 393.26h0M363.37 399.8h0M387.24 396.17h0M426.13 307.6h0M340.56 412.39h0M351.14 406.78h0M336.54 396.56h0M410.35 320.22h0M454.32 315.25h0M340.02 411.74h0M418.54 363.31h0M350.68 369.99h0M334.28 404.64h0M469.89 289.7h0M390.09 336.86h0M393.68 380.69h0M338.75 388.7h0M373.59 392.3h0M427.88 356.19h0M420.22 360.57h0M476.93 280.36h0M392.1 336.63h0M404.64 323.59h0M450.02 324.42h0M387.75 384.94h0M384.55 341.54h0M423.22 358.18h0M367.58 350.92h0M391.43 335.76h0M462.61 312.48h0M422.16 313.4h0M445.64 331.81h0M335.19 406.73h0M340.32 407.73h0M411.97 366.62h0M347.29 376.27h0M402.78 373.5h0M384.15 340.85h0M458.22 313.87h0M465.87 298.3h0M369.49 346.09h0M430.77 360.54h0M439.57 342.32h0M411.33 368.68h0M333.52 408.81h0M385.12 341.19h0M438.45 347.68h0M402.22 324.97h0M390.27 339.59h0M457.59 307.37h0M359.03 359.62h0M378.39 346.01h0M378.65 391.46h0M455.31 316.16h0M449.3 321.76h0M387.69 338.71h0M476.16 281.68h0M331.62 411.04h0M432.23 360.24h0M366.92 344.93h0M386.77 391.29h0M366.65 400.72h0M352.24 368.66h0M377.44 339.46h0M463.49 290.38h0M455.81 315.19h0M354.44 362.69h0M355.17 362.72h0M378.02 392.98h0M360.4 398.79h0M414.94 370.14h0M460.06 310.91h0M462.39 298.45h0M386.7 382.9h0M386.34 386.49h0M338.63 408.17h0M460.93 307.81h0M348.7 376.62h0M445.99 338.47h0M373.31 392.82h0M347.86 405.28h0M358.55 399.17h0M378.92 389.58h0M372.81 336.98h0M446.18 336.83h0M412.28 370.28h0M332.56 409.71h0M351.89 407.1h0M394.56 318.65h0M432.81 308.66h0M464.06 300.76h0M463 303.09h0M358.75 351.55h0M374.87 344.57h0M419.76 363.71h0M459.24 295.93h0M451.82 326.36h0M351.55 365.86h0M348.73 370.31h0M452.12 293.64h0M351.72 404.85h0M355.41 364.12h0M343.32 388.96h0M433.03 300.08h0M356.99 401.91h0M372.35 348.05h0M338.19 394.93h0M437 347.22h0M335.08 399.51h0M414.29 364.22h0M354.59 339.05h0M398.06 330.71h0M348.3 406.94h0M356.83 355.37h0M363.75 350.12h0M458.72 323.82h0M437.45 344.74h0M445.04 302.96h0M454.51 295.23h0M418.19 315.77h0M403.8 387.47h0M448.6 299.48h0M405.47 369.96h0M426.81 357.04h0M393.18 330.38h0M419.93 361.63h0M434.05 351.17h0M370 396.6h0M460.02 293.57h0M427.23 308.93h0M375.5 398.99h0M450.71 298.26h0M464.65 299.84h0M473.2 285.56h0M380.67 392.23h0M421.04 363.6h0M375.46 345.65h0M348.16 373.6h0M436.82 345.9h0M367.13 395.1h0M454.98 317.35h0M402.5 326.63h0M360.34 399.44h0M374.81 391.65h0M378.81 390.19h0M423.72 359.15h0M472.87 291.1h0M383.76 385.89h0M464.81 290.68h0M448.39 338.28h0M400.81 376.96h0M420.13 360.01h0M427.11 310h0M397.86 329.83h0M349.74 372.93h0M340.48 393.69h0M363.05 404.1h0M341.74 407.95h0M422.12 358.38h0M431.19 307.34h0M458.95 294.76h0M346.03 408.02h0M463.5 294.21h0M445.32 344.42h0M431.64 300.45h0M441.63 303.34h0M357.49 400.05h0M411.17 319.36h0M337.53 397.59h0M442.46 296.57h0M451.4 297.35h0M345.59 384.37h0M469.22 292.94h0M369.26 348.15h0M448.57 323.41h0M429.6 356.11h0M416 366.08h0M335.1 397.15h0M410.33 322.62h0M399.61 386.48h0M407.36 369.13h0M397.47 326.25h0M393.91 377.8h0M394.02 382.51h0M455.52 323.98h0M383.77 386.73h0M345.69 406.72h0M455.8 330.41h0M356.25 405.09h0M420.7 312.92h0M361.04 399.39h0M393.37 337.34h0M365.9 345.69h0M338.98 409.85h0M442.57 344.8h0M341.55 409.05h0M358.03 359.95h0M424.53 364.16h0M455.4 296.73h0M429.45 352.71h0M439.66 303.74h0M386 341.52h0M383.67 326.2h0M445.8 328.45h0M383.47 342.56h0M332.88 408.96h0M455.66 296.54h0M448.8 296.71h0M341.22 389.13h0M425.89 308.59h0M339.44 379.1h0M408.01 372.63h0M449.46 319.97h0M342.34 410.72h0M352.16 368.81h0M401.71 380.88h0M335.81 410.33h0M348.47 373.04h0M366.22 350.38h0M447.39 299.47h0M359.56 357.83h0M461.51 306.75h0M349.25 358.88h0M408.76 368.71h0M443.41 300.66h0M395.17 329.24h0M419.05 315.7h0M424.15 311.88h0M435.62 305.51h0M404.77 322.74h0M377.53 391.09h0M405.33 371.9h0M341.82 390.42h0M389.67 336.16h0M363.73 350.95h0M394.89 334.35h0M354.33 406.7h0M390.59 380.41h0M457.91 296.41h0M441.56 301.79h0M361.53 357.07h0M379.99 389.38h0M448.61 301.59h0M432.68 350.08h0M340.99 363.45h0M397.24 380.06h0M337.84 379.19h0M355.41 362.63h0M414.76 318.86h0M396.88 329.28h0M427.45 357.51h0M424.5 370.73h0M348.25 370.82h0M442.92 302.65h0M453.08 295.85h0M335.75 403.32h0M426.02 367.49h0M333.48 400.65h0M376.18 392.29h0M400.37 328.32h0M394.68 378.04h0M354.71 365.39h0M462.44 288.33h0M404.95 322.7h0M413.8 319.87h0M408.08 370.11h0M384.09 337.91h0M450.44 299.76h0M423.16 310.89h0M407.22 379.31h0M354.74 404.52h0M370.07 393.35h0M348.98 376h0M361.98 398.35h0M354.19 357.33h0M443.27 303.83h0M364.84 396.86h0M456.27 312.37h0M353.71 365.41h0M382.29 338.01h0M444.41 337.2h0M351.74 370.94h0M415.25 318h0M364.21 396.32h0M365.24 351.19h0M446.98 336.24h0M468.15 292.19h0M459.2 306.31h0M378.54 344.39h0M461.64 301.21h0M454.55 317.93h0M446.06 299.67h0M463.4 291.69h0M358.11 361.11h0M345.95 381.18h0M382.3 391.99h0M427.76 307.83h0M330.61 404.83h0M443.84 303.14h0M361.43 352.8h0M407.64 370.25h0M441.65 339.51h0M341.08 387.47h0M432.04 308.34h0M343.25 381.61h0M345.15 408.03h0M438.09 306.39h0M398.68 376.36h0M460.83 314.69h0M421.02 314.8h0M381.14 323.98h0M461.29 295.84h0M427.86 309.06h0M439.37 299.64h0M335.8 403.02h0M409.86 366.79h0M444.67 333.91h0M350.96 406.57h0M464.23 291.84h0M469.96 287.93h0M394.01 379.06h0M443.25 301.03h0M345.35 409.65h0M333.34 401.14h0M460.65 294.39h0M426.33 357.23h0M370.07 393.11h0M366.88 348.02h0M371.26 349.78h0M349.69 370.55h0M334.48 404.49h0M351.39 365.14h0M435.98 306.23h0M397.42 376.32h0M340.13 410.36h0M373.56 391.48h0M343.46 380.92h0M363.33 397.06h0M349.18 364.61h0M456.05 312.18h0M439.2 342.76h0M399.25 374.54h0M424.43 372.9h0M344.12 409.86h0M427.94 305.35h0M378.98 345.54h0M359.52 350.62h0M338.11 408.41h0M463.01 291.72h0M428.79 354.99h0M378.66 336.38h0M369.17 336.77h0M444.8 301.58h0M389.93 318.66h0M391.75 381.47h0M343.89 387.74h0M341.35 390.68h0M370.68 327.58h0M437.2 302.32h0M359.4 401.54h0M464.67 303.64h0M353.48 367.9h0M406.75 381.06h0M399.35 326.54h0M442.6 338.79h0M463.93 298.63h0M441.15 341.89h0M456.78 309.03h0M430.68 310.35h0M456.6 297.44h0M344.72 376.96h0M356.97 403.95h0M339.14 408.56h0M432.87 351.9h0M341.24 407.41h0M365.98 395.48h0M393.89 392.12h0M332.68 405.69h0M362.42 399.77h0M332.44 409.59h0M453.4 314.76h0M348.25 404.24h0M447.62 328.47h0M459.43 294.18h0M410.68 316.86h0M361.79 353.7h0M393.34 379.01h0M468.17 286.63h0M392.98 383.29h0M345 376.78h0M355.24 361.15h0M359.19 357.61h0M402.6 374.91h0M354.01 364.65h0M452.79 317.12h0M398.81 383.78h0M408.8 367.48h0M461.84 294.95h0M418.37 308.81h0M349.36 371.48h0M365.39 352.68h0M347.57 375.74h0M432.36 308.42h0M384.49 385.05h0M359.2 399.48h0M446.89 326.09h0M396.55 329.75h0M459.95 304.6h0M409.3 316.71h0M412.16 318.71h0M368.76 343.74h0M359.27 345.04h0M375.79 390.6h0M362.04 325.9h0M349.56 369.5h0M357.13 407.14h0M460.42 296.28h0M462 295.26h0M436.98 351.06h0M452.23 315.78h0M467.8 292.83h0M345.98 371.28h0M409.91 375.54h0M435.58 348.68h0M401.66 328.18h0M444.97 333.09h0M451.94 320.71h0M392.14 379.83h0M453.86 294.74h0M440 343.22h0M334.72 405.19h0M395.06 335.37h0M470.22 290.45h0M360.94 402.04h0M348.24 409.28h0M340.05 389.13h0M426.39 354.73h0M452.58 297.31h0M418.67 372.47h0M354.05 401.46h0M435.42 347.99h0M434.31 351.24h0M401.26 381.81h0M419.44 316.18h0M427 311.15h0M472.73 291.7h0M347.38 373.82h0M467.21 293.13h0M384.54 343.11h0M351.98 406.82h0M375.94 394.51h0M384.61 388.43h0M417.51 364.78h0M357.5 402.22h0M427.36 307.25h0M388.56 382.04h0M418.48 313.35h0M411.68 377.11h0M461.06 291.38h0M356.63 401.21h0M453.13 314.72h0M345.92 406.1h0M339.78 395.49h0M348.9 369.05h0M351.51 370.84h0M458.99 294.77h0M369.81 350.54h0M414.05 365.58h0M427.63 365.37h0M419.78 360.39h0M437.74 304.93h0M341.74 385.47h0M401.17 323.69h0M387.69 385.46h0M451.11 299.75h0M361.25 353.68h0M354.67 402.97h0M456.65 310.54h0M453.03 320.45h0M372.53 346.64h0M363.71 352.58h0M391.42 383.02h0M419.7 316.96h0M340.92 385.3h0M352.58 367.47h0M451.52 337.11h0M398.48 374.54h0M335.19 401.73h0M383.54 385.24h0M363.19 347.08h0M336.72 410.4h0M413.49 370.24h0M449.29 298.41h0M395.43 382.28h0M429.69 310.43h0M370.43 393.08h0M397.13 326.86h0M423.16 357.38h0M435.06 352.98h0M421.92 314.41h0M350.24 369.71h0M395.05 330.41h0M416.61 317.62h0M342.15 408.43h0M414.08 316.8h0M424.11 314.4h0M407.67 324.18h0M386.85 341.1h0M357.68 406.59h0M455.74 313.68h0M420.35 368.38h0M394.55 332.94h0M398.6 376.97h0M348.48 373h0M394.79 380.32h0M335.81 403.39h0M330.19 408.86h0M380.1 343.63h0M453.05 326.57h0M429.05 310.6h0M333.65 402.31h0M426.78 355.69h0M396 332.34h0M389.33 384.13h0M378.78 390.12h0M345.61 382.54h0M438.35 306.54h0M364.38 348.38h0M404.47 324.34h0M343.27 410.04h0M395.6 333.86h0M420.39 315.19h0M438.92 345.29h0M371.3 395.24h0M365.58 331.63h0M334.76 401.15h0M470.41 287.14h0M388.78 393.09h0M433.01 350.82h0M365.41 402.54h0M351.94 358.02h0M393.37 378.11h0M420.16 311.92h0M414.99 317.78h0M437.02 346.46h0M362.46 398.77h0M336.28 397.76h0M453.51 317.77h0M348.36 377.98h0M345.14 406.34h0M399.98 375.09h0M335.39 389.73h0M359.31 334.66h0M421.22 313.51h0M332.63 394.48h0M447.11 327.38h0M341.7 410.33h0M439.31 306.26h0M417.22 315.49h0M452.4 322.89h0M461.17 301.6h0M427.58 311.18h0M467.18 287.94h0M375.38 390.32h0M351.89 403.02h0M333.97 404.52h0M334.66 396.69h0M454.6 311.58h0M462.01 303.06h0M354.24 364.82h0M344.38 383.78h0M334.53 400.07h0M442.38 343.31h0M415.34 365.29h0M396.71 375.76h0M355.32 363.25h0M391.42 382.4h0M385.57 384.24h0M420.18 315.46h0M479.8 278.6h0M406.5 290.9h0M446.1 284.6h0M416.9 299.2h0M443 294h0M402.3 307.6h0M470.2 308.6h0M463.9 319.1h0M461.8 324.3h0M457.6 334.7h0M449.3 345.2h0M446.1 355.6h0M336.9 350.9h0M343.2 339.4h0M347.4 338.4h0M333.8 368.6h0M359.9 406.2h0M372.4 403.1h0M387 395.8h0M407.9 395.8h0M359.2 303.4h0M373.8 304.4h0M380.1 308.6h0M395.7 311.7h0M403 307.5h0M417.6 299.2h0M360.2 313.8h0M435.4 370.2h0M417.6 384.8h0M405.8 291h0M446.2 284.8h0M372.1 304.5h0M380.2 309h0M416.5 298.3h0M467.7 307.7h0M465 319.8h0M459.6 337.3h0M448.9 357.5h0M407.9 396h0M422.7 387.9h0M433.5 362.3h0M341 308h0M352 318h0" stroke="#000" stroke-width="3.4" stroke-linecap="round" fill="none"/>
<path d="M472.2 284.6h0M469.1 290.9h0M461.8 295.1h0M459.7 299.2h0M462.8 299.2h0M457.6 303.4h0M453.5 303.4h0M444.1 307.6h0M431.5 318h0M433.6 319.1h0M425.3 320.1h0M440.9 321.1h0M442 324.3h0M435.7 325.3h0M428.4 324.3h0M429.4 325.3h0M420.1 325.3h0M414.8 329.5h0M413.8 332.6h0M415.9 332.6h0M422.1 330.5h0M421.1 332.6h0M420.1 334.7h0M418 336.8h0M422.1 342h0M414.8 346.2h0M409.6 338.9h0M411.7 341h0M403.4 338.9h0M404.4 344.1h0M406.5 344.1h0M399.2 348.3h0M400.2 350.4h0M401.3 352.5h0M397.1 351.4h0M396 354.6h0M407.5 355.6h0M429.4 350.4h0M448.2 336.8h0M335.9 407.2h0M339 404.1h0M341.1 401h0M344.2 398.9h0M346.3 396.8h0M349.4 392.6h0M352.6 390.5h0M355.7 388.5h0M358.8 387.4h0M363 384.3h0M356.8 367.6h0M364.1 367.6h0M370.3 355.1h0M375.5 364.4h0M381.8 363.4h0M387 363.4h0M386 356.1h0M388.1 354h0M390.2 355.1h0M393.3 354h0M395.4 357.1h0M397.5 355.1h0M390.2 360.3h0M392.2 359.2h0M382.8 357.1h0M400.6 348.8h0M402.7 344.6h0M405.8 342.5h0M410 340.4h0M408.9 345.7h0M406.9 355.1h0M406.9 365.5h0M393.3 366.5h0M390.2 373.8h0M377.6 371.8h0M375.5 370.7h0M371.4 373.8h0M365.1 375.9h0M359.9 378h0M373.5 383.2h0M365.1 382.2h0M363 390.5h0M373.5 390.5h0M415.5 370.2h0M333.02 407.17h0M335.3 408.14h0M335.07 409.43h0M333.99 405.61h0M336.19 407.54h0M335.65 407.25h0M335.4 404.94h0M338.02 404.15h0M339.62 407.53h0M338.53 402.99h0M338.28 402.63h0M340.1 403.73h0M338.98 400.57h0M339.61 402.36h0M341.53 404.32h0M341.49 400.16h0M342.49 401.43h0M343.24 401.41h0M344.4 399.64h0M345.04 400.1h0M344.53 399.84h0M344.21 395.79h0M346.51 397.86h0M347.57 398.8h0M347.61 396.37h0M346.17 395.92h0M349.39 397.57h0M349.33 393.75h0M348.02 395.56h0M350.71 395.61h0M348.67 392.14h0M352 394.45h0M350.65 394.1h0M350.36 389.99h0M353.22 391.5h0M353.46 393.18h0M352.26 390.29h0M353.15 391.27h0M353.97 391.67h0M353.97 387.64h0M356.99 390.24h0M356.11 391.43h0M355.63 386.52h0M358.35 388.37h0M357.24 390.26h0M357.29 384.73h0M359.8 386.12h0M359.41 386.43h0M358.63 384.12h0M360.08 385.38h0M361.27 385.98h0M386.52 357.41h0M386.66 360.25h0M386.58 355.56h0M389.39 359.07h0M388.67 354.58h0M390.91 358.3h0M390.47 355.34h0M393.18 356.43h0M392.93 352.24h0M393.08 356.23h0M394.42 352.62h0M395.53 354.83h0M397.2 350.57h0M397.26 353.52h0M397.86 349.35h0M400.1 352.77h0M401.1 348.41h0M402.89 350.15h0M401.59 347.32h0M403.68 348.74h0M407.35 341.74h0M409.98 339.42h0M411.4 339.1h0M414.48 336.8h0M415.74 334.81h0M416.47 331.88h0M413.04 334.82h0M417.09 333.58h0M418.41 331.59h0M422.01 330.44h0M425.57 326.2h0M427.84 323.68h0M432.29 323.1h0M435.16 321.2h0M438.15 320.27h0M439.96 318.29h0M431.7 318.5h0M433 322h0M437 324.5h0M427 331h0M416 347h0M402 355h0M396 352h0M399 360h0M391 364h0M381 362h0M360 374h0M368 366h0M350 385h0M345 392h0M430 338h0M441 330h0M455 300h0M460 290h0M464.01 299.05h0M445.38 308.49h0M452.27 297.16h0M389.55 353.97h0M419.07 333.72h0M427.35 327.87h0M388.96 351.37h0M438.02 315.19h0M451.97 302.94h0M351.97 392.03h0M421.94 332.01h0M406.07 346.65h0M412.43 350.28h0M426.59 334.27h0M340.51 398.32h0M378.76 364.17h0M361.45 380.09h0M460.05 293.86h0M457.11 294.44h0M382.49 361.03h0M396.62 348.95h0M388.53 351.99h0M419.42 334.06h0M409.19 346.2h0M457.14 307.95h0M378.77 370.16h0M380.1 371.83h0" stroke="#f2453d" stroke-width="3.7" stroke-linecap="round" fill="none"/>
<path d="M471.1 406.3h2.6V423.4h-2.6z" fill="#111"/><path d="M472.5 407.2Q470.5 410.6 467.1 411.6" stroke="#111" stroke-width="2.2" fill="none"/>
<path d="M484.5 406.3h2.6V423.4h-2.6z" fill="#111"/><path d="M485.9 407.2Q483.9 410.6 480.5 411.6" stroke="#111" stroke-width="2.2" fill="none"/>
</svg></body></html>
